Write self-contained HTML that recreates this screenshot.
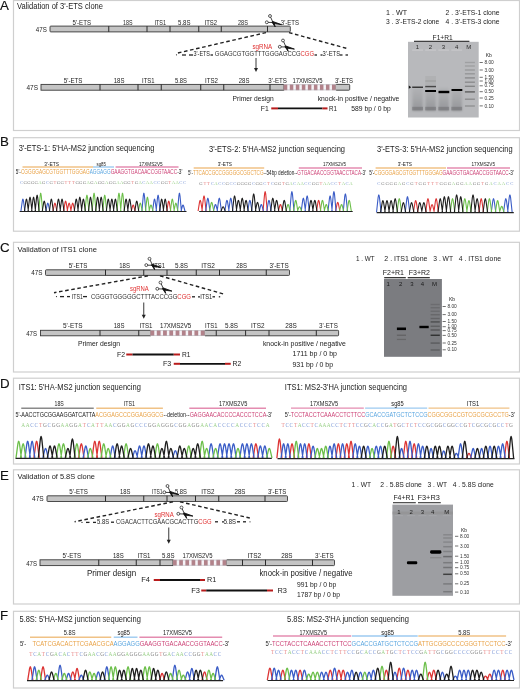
<!DOCTYPE html><html><head><meta charset="utf-8"><style>html,body{margin:0;padding:0;background:#fff;overflow:hidden}svg{display:block;filter:blur(0.3px)}</style></head><body><svg width="520" height="689" viewBox="0 0 520 689">
<defs><filter id="blur" x="-50%" y="-50%" width="200%" height="200%"><feGaussianBlur stdDeviation="0.5"/></filter><filter id="blur2" x="-50%" y="-50%" width="200%" height="200%"><feGaussianBlur stdDeviation="0.9"/></filter><linearGradient id="laneA" x1="0" y1="0" x2="0" y2="1"><stop offset="0" stop-color="#a9aaad" stop-opacity="0.5"/><stop offset="1" stop-color="#8c8d90" stop-opacity="0.85"/></linearGradient></defs>
<rect width="520" height="689" fill="#fff"/>
<rect x="13.5" y="0.5" width="506.0" height="130.0" fill="none" stroke="#cfcfcf" stroke-width="1.2"/>
<text x="0.0" y="9.6" font-size="13.3" fill="#111" stroke="#111" stroke-width="0.15" font-family="Liberation Sans">A</text>
<text x="17.00" y="8.70" font-size="8.3" fill="#222" stroke="#222" stroke-width="0.0" font-family="Liberation Sans" textLength="86.00" lengthAdjust="spacingAndGlyphs">Validation of 3'-ETS clone</text>
<text x="35.75" y="32.00" font-size="6.8" fill="#222" stroke="#222" stroke-width="0.0" font-family="Liberation Sans" textLength="11.00" lengthAdjust="spacingAndGlyphs">47S</text>
<rect x="50" y="26.1" width="240.3" height="5.799999999999997" fill="#c4c4c4" stroke="#3a3a3a" stroke-width="0.9" rx="0.8"/>
<line x1="108.75" y1="26.1" x2="108.75" y2="31.9" stroke="#2a2a2a" stroke-width="1.0" />
<line x1="147" y1="26.1" x2="147" y2="31.9" stroke="#2a2a2a" stroke-width="1.0" />
<line x1="170" y1="26.1" x2="170" y2="31.9" stroke="#2a2a2a" stroke-width="1.0" />
<line x1="198.75" y1="26.1" x2="198.75" y2="31.9" stroke="#2a2a2a" stroke-width="1.0" />
<line x1="221.25" y1="26.1" x2="221.25" y2="31.9" stroke="#2a2a2a" stroke-width="1.0" />
<line x1="267.5" y1="26.1" x2="267.5" y2="31.9" stroke="#2a2a2a" stroke-width="1.0" />
<text x="72.50" y="24.60" font-size="7.0" fill="#222" stroke="#222" stroke-width="0.0" font-family="Liberation Sans" textLength="18.50" lengthAdjust="spacingAndGlyphs">5'-ETS</text>
<text x="123.00" y="24.60" font-size="7.0" fill="#222" stroke="#222" stroke-width="0.0" font-family="Liberation Sans" textLength="9.50" lengthAdjust="spacingAndGlyphs">18S</text>
<text x="154.50" y="24.60" font-size="7.0" fill="#222" stroke="#222" stroke-width="0.0" font-family="Liberation Sans" textLength="11.50" lengthAdjust="spacingAndGlyphs">ITS1</text>
<text x="178.00" y="24.60" font-size="7.0" fill="#222" stroke="#222" stroke-width="0.0" font-family="Liberation Sans" textLength="12.50" lengthAdjust="spacingAndGlyphs">5.8S</text>
<text x="204.50" y="24.60" font-size="7.0" fill="#222" stroke="#222" stroke-width="0.0" font-family="Liberation Sans" textLength="12.50" lengthAdjust="spacingAndGlyphs">ITS2</text>
<text x="238.00" y="24.60" font-size="7.0" fill="#222" stroke="#222" stroke-width="0.0" font-family="Liberation Sans" textLength="10.00" lengthAdjust="spacingAndGlyphs">28S</text>
<text x="280.80" y="24.60" font-size="7.0" fill="#222" stroke="#222" stroke-width="0.0" font-family="Liberation Sans" textLength="18.20" lengthAdjust="spacingAndGlyphs">3'-ETS</text>
<g><circle cx="270" cy="16.0" r="1.45" fill="none" stroke="#222" stroke-width="0.75"/><circle cx="266.8" cy="22.3" r="1.45" fill="none" stroke="#222" stroke-width="0.75"/><path d="M270.7,17.3 L273,22.5" stroke="#111" stroke-width="0.8"/><path d="M268.2,22.400000000000002 L273,22.5" stroke="#111" stroke-width="0.8"/><path d="M271.9,22.0 L274.1,23.0 L275.2,26.9 Z" fill="#111" stroke="#111" stroke-width="0.9"/><path d="M272.6,21.4 L273.4,23.6 L281.4,24.6 Z" fill="#111" stroke="#111" stroke-width="0.9"/></g>
<line x1="266" y1="32.6" x2="176.5" y2="53.3" stroke="#222" stroke-width="1.4" stroke-dasharray="3.6,2.6"/>
<line x1="289" y1="32.6" x2="347.5" y2="48.6" stroke="#222" stroke-width="1.4" stroke-dasharray="3.6,2.6"/>
<circle cx="176.5" cy="54.8" r="0.6" fill="#222"/>
<line x1="182" y1="55" x2="186" y2="55" stroke="#222" stroke-width="1.3" />
<line x1="189" y1="55" x2="193" y2="55" stroke="#222" stroke-width="1.3" />
<text x="193.50" y="55.80" font-size="6.5" fill="#222" stroke="#222" stroke-width="0.0" font-family="Liberation Sans" textLength="16.50" lengthAdjust="spacingAndGlyphs">3'-ETS</text>
<line x1="210.5" y1="55" x2="213" y2="55" stroke="#222" stroke-width="1.3" />
<text x="214.80" y="56.00" font-size="6.6" fill="#333" stroke="#333" stroke-width="0.0" font-family="Liberation Sans" textLength="85.73" lengthAdjust="spacingAndGlyphs">GGAGCGTGGTTTGGGAGCCG</text>
<text x="300.53" y="56.00" font-size="6.6" fill="#e03030" stroke="#e03030" stroke-width="0.0" font-family="Liberation Sans" textLength="13.47" lengthAdjust="spacingAndGlyphs">CGG</text>
<line x1="314.5" y1="55" x2="317" y2="55" stroke="#222" stroke-width="1.3" />
<line x1="320.5" y1="55" x2="322.5" y2="55" stroke="#222" stroke-width="1.3" />
<text x="322.50" y="55.80" font-size="6.5" fill="#222" stroke="#222" stroke-width="0.0" font-family="Liberation Sans" textLength="17.50" lengthAdjust="spacingAndGlyphs">3'-ETS</text>
<line x1="340" y1="55" x2="342.5" y2="55" stroke="#222" stroke-width="1.3" />
<line x1="345.5" y1="55" x2="348" y2="55" stroke="#222" stroke-width="1.3" />
<text x="252.50" y="49.00" font-size="7.0" fill="#e03030" stroke="#e03030" stroke-width="0.0" font-family="Liberation Sans" textLength="19.80" lengthAdjust="spacingAndGlyphs">sgRNA</text>
<g><circle cx="283" cy="40.5" r="1.45" fill="none" stroke="#222" stroke-width="0.75"/><circle cx="279.8" cy="46.8" r="1.45" fill="none" stroke="#222" stroke-width="0.75"/><path d="M283.7,41.8 L286,47" stroke="#111" stroke-width="0.8"/><path d="M281.2,46.9 L286,47" stroke="#111" stroke-width="0.8"/><path d="M284.9,46.5 L287.1,47.5 L288.2,51.4 Z" fill="#111" stroke="#111" stroke-width="0.9"/><path d="M285.6,45.9 L286.4,48.1 L294.4,49.1 Z" fill="#111" stroke="#111" stroke-width="0.9"/></g>
<line x1="256" y1="58" x2="256" y2="69" stroke="#222" stroke-width="0.9" />
<path d="M254,68 L258,68 L256,72 Z" fill="#222"/>
<text x="26.50" y="89.60" font-size="6.8" fill="#222" stroke="#222" stroke-width="0.0" font-family="Liberation Sans" textLength="11.50" lengthAdjust="spacingAndGlyphs">47S</text>
<rect x="41" y="84.4" width="242.75" height="5.799999999999997" fill="#c4c4c4" stroke="#3a3a3a" stroke-width="0.9"/>
<rect x="335.5" y="84.4" width="14.199999999999989" height="5.799999999999997" fill="#c4c4c4" stroke="#3a3a3a" stroke-width="0.9" rx="0.8"/>
<rect x="283.75" y="84.4" width="51.75" height="5.799999999999997" fill="#f6f4f8"/>
<rect x="283.75" y="84.4" width="3.53" height="5.799999999999997" fill="#b2828a"/>
<rect x="289.78" y="84.4" width="3.53" height="5.799999999999997" fill="#b2828a"/>
<rect x="295.81" y="84.4" width="3.53" height="5.799999999999997" fill="#b2828a"/>
<rect x="301.83" y="84.4" width="3.53" height="5.799999999999997" fill="#b2828a"/>
<rect x="307.86" y="84.4" width="3.53" height="5.799999999999997" fill="#b2828a"/>
<rect x="313.89" y="84.4" width="3.53" height="5.799999999999997" fill="#b2828a"/>
<rect x="319.92" y="84.4" width="3.53" height="5.799999999999997" fill="#b2828a"/>
<rect x="325.94" y="84.4" width="3.53" height="5.799999999999997" fill="#b2828a"/>
<rect x="331.97" y="84.4" width="3.53" height="5.799999999999997" fill="#b2828a"/>
<line x1="283.75" y1="84.65" x2="335.5" y2="84.65" stroke="#a8a8b0" stroke-width="0.5"/>
<line x1="283.75" y1="89.95" x2="335.5" y2="89.95" stroke="#a8a8b0" stroke-width="0.5"/>
<line x1="100" y1="84.4" x2="100" y2="90.2" stroke="#2a2a2a" stroke-width="1.0" />
<line x1="138" y1="84.4" x2="138" y2="90.2" stroke="#2a2a2a" stroke-width="1.0" />
<line x1="161.25" y1="84.4" x2="161.25" y2="90.2" stroke="#2a2a2a" stroke-width="1.0" />
<line x1="200.75" y1="84.4" x2="200.75" y2="90.2" stroke="#2a2a2a" stroke-width="1.0" />
<line x1="223.75" y1="84.4" x2="223.75" y2="90.2" stroke="#2a2a2a" stroke-width="1.0" />
<line x1="270" y1="84.4" x2="270" y2="90.2" stroke="#2a2a2a" stroke-width="1.0" />
<text x="63.75" y="82.60" font-size="7.0" fill="#222" stroke="#222" stroke-width="0.0" font-family="Liberation Sans" textLength="18.75" lengthAdjust="spacingAndGlyphs">5'-ETS</text>
<text x="113.75" y="82.60" font-size="7.0" fill="#222" stroke="#222" stroke-width="0.0" font-family="Liberation Sans" textLength="10.75" lengthAdjust="spacingAndGlyphs">18S</text>
<text x="142.00" y="82.60" font-size="7.0" fill="#222" stroke="#222" stroke-width="0.0" font-family="Liberation Sans" textLength="12.50" lengthAdjust="spacingAndGlyphs">ITS1</text>
<text x="175.00" y="82.60" font-size="7.0" fill="#222" stroke="#222" stroke-width="0.0" font-family="Liberation Sans" textLength="12.00" lengthAdjust="spacingAndGlyphs">5.8S</text>
<text x="205.00" y="82.60" font-size="7.0" fill="#222" stroke="#222" stroke-width="0.0" font-family="Liberation Sans" textLength="13.00" lengthAdjust="spacingAndGlyphs">ITS2</text>
<text x="238.75" y="82.60" font-size="7.0" fill="#222" stroke="#222" stroke-width="0.0" font-family="Liberation Sans" textLength="10.75" lengthAdjust="spacingAndGlyphs">28S</text>
<text x="268.25" y="82.60" font-size="7.0" fill="#222" stroke="#222" stroke-width="0.0" font-family="Liberation Sans" textLength="18.75" lengthAdjust="spacingAndGlyphs">3'-ETS</text>
<text x="292.50" y="82.60" font-size="7.0" fill="#222" stroke="#222" stroke-width="0.0" font-family="Liberation Sans" textLength="30.00" lengthAdjust="spacingAndGlyphs">17XMS2V5</text>
<text x="335.00" y="82.60" font-size="7.0" fill="#222" stroke="#222" stroke-width="0.0" font-family="Liberation Sans" textLength="18.00" lengthAdjust="spacingAndGlyphs">3'-ETS</text>
<text x="232.50" y="101.00" font-size="7" fill="#222" stroke="#222" stroke-width="0.0" font-family="Liberation Sans" textLength="41.25" lengthAdjust="spacingAndGlyphs">Primer design</text>
<text x="317.70" y="100.80" font-size="7" fill="#222" stroke="#222" stroke-width="0.0" font-family="Liberation Sans" textLength="81.70" lengthAdjust="spacingAndGlyphs">knock-in positive / negative</text>
<text x="260.75" y="111.20" font-size="7" fill="#222" stroke="#222" stroke-width="0.0" font-family="Liberation Sans" textLength="8.00" lengthAdjust="spacingAndGlyphs">F1</text>
<line x1="271.25" y1="108.4" x2="278" y2="108.4" stroke="#b81c1c" stroke-width="2.0" />
<line x1="278" y1="108.4" x2="322.5" y2="108.4" stroke="#111" stroke-width="1.8" />
<line x1="322.5" y1="108.4" x2="327.5" y2="108.4" stroke="#b81c1c" stroke-width="2.0" />
<text x="329.00" y="111.20" font-size="7" fill="#222" stroke="#222" stroke-width="0.0" font-family="Liberation Sans" textLength="8.00" lengthAdjust="spacingAndGlyphs">R1</text>
<text x="351.30" y="111.20" font-size="6.8" fill="#222" stroke="#222" stroke-width="0.0" font-family="Liberation Sans" textLength="39.50" lengthAdjust="spacingAndGlyphs">589 bp / 0 bp</text>
<text x="386.00" y="14.80" font-size="6.8" fill="#222" stroke="#222" stroke-width="0.0" font-family="Liberation Sans" textLength="21.00" lengthAdjust="spacingAndGlyphs">1 . WT</text>
<text x="445.50" y="14.80" font-size="6.8" fill="#222" stroke="#222" stroke-width="0.0" font-family="Liberation Sans" textLength="53.90" lengthAdjust="spacingAndGlyphs">2 . 3'-ETS-1 clone</text>
<text x="386.00" y="24.30" font-size="6.8" fill="#222" stroke="#222" stroke-width="0.0" font-family="Liberation Sans" textLength="53.30" lengthAdjust="spacingAndGlyphs">3 . 3'-ETS-2 clone</text>
<text x="445.50" y="24.30" font-size="6.8" fill="#222" stroke="#222" stroke-width="0.0" font-family="Liberation Sans" textLength="53.90" lengthAdjust="spacingAndGlyphs">4 . 3'-ETS-3 clone</text>
<text x="432.60" y="39.60" font-size="6.8" fill="#222" stroke="#222" stroke-width="0.0" font-family="Liberation Sans" textLength="20.20" lengthAdjust="spacingAndGlyphs">F1+R1</text>
<line x1="414" y1="41.3" x2="469.4" y2="41.3" stroke="#222" stroke-width="1.3" />
<rect x="408.00" y="41.80" width="70.70" height="75.70" rx="0" fill="#b8b9bc" opacity="1"/>
<rect x="412.20" y="49.50" width="10.80" height="1.20" rx="0" fill="#cfcfd2" opacity="0.7" filter="url(#blur)"/>
<rect x="412.40" y="88" width="10.4" height="23" fill="url(#laneA)" filter="url(#blur2)"/>
<rect x="412.20" y="106.80" width="10.80" height="3.60" rx="0" fill="#6e6e72" opacity="0.55" filter="url(#blur)"/>
<rect x="425.20" y="49.50" width="10.80" height="1.20" rx="0" fill="#cfcfd2" opacity="0.7" filter="url(#blur)"/>
<rect x="425.40" y="88" width="10.4" height="23" fill="url(#laneA)" filter="url(#blur2)"/>
<rect x="425.20" y="106.80" width="10.80" height="3.60" rx="0" fill="#6e6e72" opacity="0.55" filter="url(#blur)"/>
<rect x="438.30" y="49.50" width="10.80" height="1.20" rx="0" fill="#cfcfd2" opacity="0.7" filter="url(#blur)"/>
<rect x="438.50" y="88" width="10.4" height="23" fill="url(#laneA)" filter="url(#blur2)"/>
<rect x="438.30" y="106.80" width="10.80" height="3.60" rx="0" fill="#6e6e72" opacity="0.55" filter="url(#blur)"/>
<rect x="451.30" y="49.50" width="10.80" height="1.20" rx="0" fill="#cfcfd2" opacity="0.7" filter="url(#blur)"/>
<rect x="451.50" y="88" width="10.4" height="23" fill="url(#laneA)" filter="url(#blur2)"/>
<rect x="451.30" y="106.80" width="10.80" height="3.60" rx="0" fill="#6e6e72" opacity="0.55" filter="url(#blur)"/>
<rect x="425.20" y="76.00" width="10.80" height="9.00" rx="0" fill="#a0a0a0" opacity="0.3" filter="url(#blur)"/>
<rect x="425.20" y="80.50" width="10.80" height="1.00" rx="0" fill="#7a7a7a" opacity="0.4" filter="url(#blur)"/>
<rect x="412.20" y="86.50" width="10.80" height="1.50" rx="0" fill="#2a2a2a" opacity="0.9" filter="url(#blur)"/>
<rect x="425.20" y="85.80" width="10.80" height="1.50" rx="0" fill="#2a2a2a" opacity="0.8" filter="url(#blur)"/>
<rect x="425.20" y="90.00" width="10.80" height="2.00" rx="0" fill="#000" opacity="1" filter="url(#blur)"/>
<rect x="438.50" y="90.80" width="10.80" height="2.40" rx="0" fill="#000" opacity="1" filter="url(#blur)"/>
<rect x="451.50" y="89.00" width="10.80" height="2.00" rx="0" fill="#000" opacity="1" filter="url(#blur)"/>
<path d="M408.8,85.6 L411.2,87.2 L408.8,88.8 Z" fill="#111"/>
<rect x="464.90" y="61.80" width="10.00" height="1.40" rx="0" fill="#4a4a4a" opacity="0.22" filter="url(#blur)"/>
<rect x="464.90" y="65.30" width="10.00" height="1.40" rx="0" fill="#4a4a4a" opacity="0.22" filter="url(#blur)"/>
<rect x="464.90" y="69.30" width="10.00" height="1.40" rx="0" fill="#4a4a4a" opacity="0.28" filter="url(#blur)"/>
<rect x="464.90" y="73.10" width="10.00" height="1.40" rx="0" fill="#4a4a4a" opacity="0.3" filter="url(#blur)"/>
<rect x="464.90" y="77.20" width="10.00" height="1.40" rx="0" fill="#4a4a4a" opacity="0.4" filter="url(#blur)"/>
<rect x="464.90" y="81.50" width="10.00" height="1.40" rx="0" fill="#4a4a4a" opacity="0.4" filter="url(#blur)"/>
<rect x="464.90" y="85.60" width="10.00" height="1.40" rx="0" fill="#4a4a4a" opacity="0.45" filter="url(#blur)"/>
<rect x="464.90" y="91.20" width="10.00" height="1.40" rx="0" fill="#4a4a4a" opacity="0.8" filter="url(#blur)"/>
<rect x="464.90" y="98.50" width="10.00" height="1.40" rx="0" fill="#4a4a4a" opacity="0.4" filter="url(#blur)"/>
<rect x="464.90" y="105.30" width="10.00" height="1.40" rx="0" fill="#4a4a4a" opacity="0.35" filter="url(#blur)"/>
<text x="417.3" y="48.6" font-size="6" fill="#2a2a2a" font-family="Liberation Sans" text-anchor="middle">1</text>
<text x="430.3" y="48.6" font-size="6" fill="#2a2a2a" font-family="Liberation Sans" text-anchor="middle">2</text>
<text x="443.4" y="48.6" font-size="6" fill="#2a2a2a" font-family="Liberation Sans" text-anchor="middle">3</text>
<text x="456.7" y="48.6" font-size="6" fill="#2a2a2a" font-family="Liberation Sans" text-anchor="middle">4</text>
<text x="468.8" y="48.6" font-size="6" fill="#2a2a2a" font-family="Liberation Sans" text-anchor="middle">M</text>
<text x="485.7" y="57.2" font-size="5" fill="#222" font-family="Liberation Sans">Kb</text>
<line x1="479.6" y1="62.5" x2="482.8" y2="62.5" stroke="#333" stroke-width="0.7" />
<text x="484.40" y="64.10" font-size="4.8" fill="#333" font-family="Liberation Sans">8.00</text>
<line x1="479.6" y1="70" x2="482.8" y2="70" stroke="#333" stroke-width="0.7" />
<text x="484.40" y="71.60" font-size="4.8" fill="#333" font-family="Liberation Sans">3.00</text>
<line x1="479.6" y1="77.3" x2="482.8" y2="77.3" stroke="#333" stroke-width="0.7" />
<text x="484.40" y="78.90" font-size="4.8" fill="#333" font-family="Liberation Sans">1.50</text>
<line x1="479.6" y1="81" x2="482.8" y2="81" stroke="#333" stroke-width="0.7" />
<text x="484.40" y="82.60" font-size="4.8" fill="#333" font-family="Liberation Sans">1.00</text>
<line x1="479.6" y1="85.8" x2="482.8" y2="85.8" stroke="#333" stroke-width="0.7" />
<text x="484.40" y="87.40" font-size="4.8" fill="#333" font-family="Liberation Sans">0.75</text>
<line x1="479.6" y1="91.7" x2="482.8" y2="91.7" stroke="#333" stroke-width="0.7" />
<text x="484.40" y="93.30" font-size="4.8" fill="#333" font-family="Liberation Sans">0.50</text>
<line x1="479.6" y1="98" x2="482.8" y2="98" stroke="#333" stroke-width="0.7" />
<text x="484.40" y="99.60" font-size="4.8" fill="#333" font-family="Liberation Sans">0.25</text>
<line x1="479.6" y1="105.9" x2="482.8" y2="105.9" stroke="#333" stroke-width="0.7" />
<text x="484.40" y="107.50" font-size="4.8" fill="#333" font-family="Liberation Sans">0.10</text>
<rect x="13.5" y="137.7" width="506.0" height="93.5" fill="none" stroke="#cfcfcf" stroke-width="1.2"/>
<text x="0.0" y="146.3" font-size="13.3" fill="#111" stroke="#111" stroke-width="0.15" font-family="Liberation Sans">B</text>
<text x="18.70" y="150.60" font-size="9.1" fill="#222" stroke="#222" stroke-width="0.0" font-family="Liberation Sans" textLength="135.70" lengthAdjust="spacingAndGlyphs">3'-ETS-1: 5'HA-MS2 junction sequencing</text>
<line x1="22.5" y1="167" x2="93" y2="167" stroke="#f0c286" stroke-width="1.4" />
<line x1="93" y1="167" x2="114" y2="167" stroke="#9ccaf0" stroke-width="1.4" />
<line x1="115.6" y1="167" x2="178.5" y2="167" stroke="#e48cb0" stroke-width="1.4" />
<text x="44.20" y="165.60" font-size="5.6" fill="#222" stroke="#222" stroke-width="0.0" font-family="Liberation Sans" textLength="14.80" lengthAdjust="spacingAndGlyphs">3'-ETS</text>
<text x="96.50" y="165.60" font-size="5.6" fill="#222" stroke="#222" stroke-width="0.0" font-family="Liberation Sans" textLength="9.50" lengthAdjust="spacingAndGlyphs">sg85</text>
<text x="139.00" y="165.60" font-size="5.6" fill="#222" stroke="#222" stroke-width="0.0" font-family="Liberation Sans" textLength="23.70" lengthAdjust="spacingAndGlyphs">17XMS2V5</text>
<text x="15.80" y="173.80" font-size="6.4" fill="#222" stroke="#222" stroke-width="0.0" font-family="Liberation Sans" textLength="5.10" lengthAdjust="spacingAndGlyphs">5'-</text>
<text x="20.90" y="173.80" font-size="6.4" fill="#e9a246" stroke="#e9a246" stroke-width="0.0" font-family="Liberation Sans" textLength="68.75" lengthAdjust="spacingAndGlyphs">CGGGGAGCGTGGTTTGGGAG</text>
<text x="89.64" y="173.80" font-size="6.4" fill="#5aa6e0" stroke="#5aa6e0" stroke-width="0.0" font-family="Liberation Sans" textLength="21.00" lengthAdjust="spacingAndGlyphs">AGGAGG</text>
<text x="110.64" y="173.80" font-size="6.4" fill="#cc3f74" stroke="#cc3f74" stroke-width="0.0" font-family="Liberation Sans" textLength="66.56" lengthAdjust="spacingAndGlyphs">GAAGGTGACAACCGGTAACC</text>
<text x="177.20" y="173.80" font-size="6.4" fill="#222" stroke="#222" stroke-width="0.0" font-family="Liberation Sans" textLength="5.10" lengthAdjust="spacingAndGlyphs">-3'</text>
<text x="21.45" y="184" font-size="4.7" fill="#7f9ad8" font-family="Liberation Serif" text-anchor="middle">C</text>
<text x="25.16" y="184" font-size="4.7" fill="#808080" font-family="Liberation Serif" text-anchor="middle">G</text>
<text x="28.87" y="184" font-size="4.7" fill="#808080" font-family="Liberation Serif" text-anchor="middle">G</text>
<text x="32.58" y="184" font-size="4.7" fill="#808080" font-family="Liberation Serif" text-anchor="middle">G</text>
<text x="36.29" y="184" font-size="4.7" fill="#808080" font-family="Liberation Serif" text-anchor="middle">G</text>
<text x="40.00" y="184" font-size="4.7" fill="#9ad088" font-family="Liberation Serif" text-anchor="middle">A</text>
<text x="43.71" y="184" font-size="4.7" fill="#808080" font-family="Liberation Serif" text-anchor="middle">G</text>
<text x="47.42" y="184" font-size="4.7" fill="#7f9ad8" font-family="Liberation Serif" text-anchor="middle">C</text>
<text x="51.13" y="184" font-size="4.7" fill="#808080" font-family="Liberation Serif" text-anchor="middle">G</text>
<text x="54.83" y="184" font-size="4.7" fill="#e88a8a" font-family="Liberation Serif" text-anchor="middle">T</text>
<text x="58.54" y="184" font-size="4.7" fill="#808080" font-family="Liberation Serif" text-anchor="middle">G</text>
<text x="62.25" y="184" font-size="4.7" fill="#808080" font-family="Liberation Serif" text-anchor="middle">G</text>
<text x="65.96" y="184" font-size="4.7" fill="#e88a8a" font-family="Liberation Serif" text-anchor="middle">T</text>
<text x="69.67" y="184" font-size="4.7" fill="#e88a8a" font-family="Liberation Serif" text-anchor="middle">T</text>
<text x="73.38" y="184" font-size="4.7" fill="#e88a8a" font-family="Liberation Serif" text-anchor="middle">T</text>
<text x="77.09" y="184" font-size="4.7" fill="#808080" font-family="Liberation Serif" text-anchor="middle">G</text>
<text x="80.80" y="184" font-size="4.7" fill="#808080" font-family="Liberation Serif" text-anchor="middle">G</text>
<text x="84.51" y="184" font-size="4.7" fill="#808080" font-family="Liberation Serif" text-anchor="middle">G</text>
<text x="88.21" y="184" font-size="4.7" fill="#9ad088" font-family="Liberation Serif" text-anchor="middle">A</text>
<text x="91.92" y="184" font-size="4.7" fill="#808080" font-family="Liberation Serif" text-anchor="middle">G</text>
<text x="95.63" y="184" font-size="4.7" fill="#9ad088" font-family="Liberation Serif" text-anchor="middle">A</text>
<text x="99.34" y="184" font-size="4.7" fill="#808080" font-family="Liberation Serif" text-anchor="middle">G</text>
<text x="103.05" y="184" font-size="4.7" fill="#808080" font-family="Liberation Serif" text-anchor="middle">G</text>
<text x="106.76" y="184" font-size="4.7" fill="#9ad088" font-family="Liberation Serif" text-anchor="middle">A</text>
<text x="110.47" y="184" font-size="4.7" fill="#808080" font-family="Liberation Serif" text-anchor="middle">G</text>
<text x="114.18" y="184" font-size="4.7" fill="#808080" font-family="Liberation Serif" text-anchor="middle">G</text>
<text x="117.89" y="184" font-size="4.7" fill="#9ad088" font-family="Liberation Serif" text-anchor="middle">A</text>
<text x="121.59" y="184" font-size="4.7" fill="#9ad088" font-family="Liberation Serif" text-anchor="middle">A</text>
<text x="125.30" y="184" font-size="4.7" fill="#808080" font-family="Liberation Serif" text-anchor="middle">G</text>
<text x="129.01" y="184" font-size="4.7" fill="#808080" font-family="Liberation Serif" text-anchor="middle">G</text>
<text x="132.72" y="184" font-size="4.7" fill="#e88a8a" font-family="Liberation Serif" text-anchor="middle">T</text>
<text x="136.43" y="184" font-size="4.7" fill="#808080" font-family="Liberation Serif" text-anchor="middle">G</text>
<text x="140.14" y="184" font-size="4.7" fill="#9ad088" font-family="Liberation Serif" text-anchor="middle">A</text>
<text x="143.85" y="184" font-size="4.7" fill="#7f9ad8" font-family="Liberation Serif" text-anchor="middle">C</text>
<text x="147.56" y="184" font-size="4.7" fill="#9ad088" font-family="Liberation Serif" text-anchor="middle">A</text>
<text x="151.27" y="184" font-size="4.7" fill="#9ad088" font-family="Liberation Serif" text-anchor="middle">A</text>
<text x="154.97" y="184" font-size="4.7" fill="#7f9ad8" font-family="Liberation Serif" text-anchor="middle">C</text>
<text x="158.68" y="184" font-size="4.7" fill="#7f9ad8" font-family="Liberation Serif" text-anchor="middle">C</text>
<text x="162.39" y="184" font-size="4.7" fill="#808080" font-family="Liberation Serif" text-anchor="middle">G</text>
<text x="166.10" y="184" font-size="4.7" fill="#808080" font-family="Liberation Serif" text-anchor="middle">G</text>
<text x="169.81" y="184" font-size="4.7" fill="#e88a8a" font-family="Liberation Serif" text-anchor="middle">T</text>
<text x="173.52" y="184" font-size="4.7" fill="#9ad088" font-family="Liberation Serif" text-anchor="middle">A</text>
<text x="177.23" y="184" font-size="4.7" fill="#9ad088" font-family="Liberation Serif" text-anchor="middle">A</text>
<text x="180.94" y="184" font-size="4.7" fill="#7f9ad8" font-family="Liberation Serif" text-anchor="middle">C</text>
<text x="184.65" y="184" font-size="4.7" fill="#7f9ad8" font-family="Liberation Serif" text-anchor="middle">C</text>
<path d="M52.96,211.00 L54.33,204.32 Q54.92,201.81 55.51,204.32 L56.88,211.00 M63.64,211.00 L65.01,202.64 Q65.59,199.51 66.18,202.64 L67.55,211.00 M67.19,211.00 L68.56,204.32 Q69.15,201.81 69.74,204.32 L71.11,211.00 M70.75,211.00 L72.12,204.32 Q72.71,201.81 73.30,204.32 L74.67,211.00 M131.23,211.00 L132.60,205.99 Q133.19,204.11 133.78,205.99 L135.15,211.00 M166.81,211.00 L168.18,202.64 Q168.77,199.51 169.36,202.64 L170.73,211.00" fill="none" stroke="#dc3434" stroke-width="1.1" stroke-linejoin="round"/>
<path d="M20.94,211.00 L22.31,200.97 Q22.90,197.21 23.49,200.97 L24.86,211.00 M45.85,211.00 L47.22,204.32 Q47.80,201.81 48.39,204.32 L49.76,211.00 M141.91,211.00 L143.28,195.96 Q143.86,190.32 144.45,195.96 L145.82,211.00 M152.58,211.00 L153.95,200.97 Q154.54,197.21 155.12,200.97 L156.49,211.00 M156.14,211.00 L157.51,197.63 Q158.10,192.62 158.68,197.63 L160.05,211.00 M177.49,211.00 L178.86,195.96 Q179.44,190.32 180.03,195.96 L181.40,211.00 M181.04,211.00 L182.41,205.99 Q183.00,204.11 183.59,205.99 L184.96,211.00" fill="none" stroke="#3a5cc6" stroke-width="1.1" stroke-linejoin="round"/>
<path d="M38.73,211.00 L40.10,195.96 Q40.69,190.32 41.28,195.96 L42.65,211.00 M84.98,211.00 L86.35,197.63 Q86.94,192.62 87.53,197.63 L88.90,211.00 M92.10,211.00 L93.47,195.96 Q94.06,190.32 94.64,195.96 L96.01,211.00 M102.77,211.00 L104.14,197.63 Q104.73,192.62 105.32,197.63 L106.69,211.00 M117.00,211.00 L118.37,195.96 Q118.96,190.32 119.55,195.96 L120.92,211.00 M120.56,211.00 L121.93,195.96 Q122.52,190.32 123.10,195.96 L124.47,211.00 M138.35,211.00 L139.72,204.32 Q140.31,201.81 140.89,204.32 L142.26,211.00 M145.47,211.00 L146.84,199.30 Q147.42,194.92 148.01,199.30 L149.38,211.00 M149.02,211.00 L150.39,205.99 Q150.98,204.11 151.57,205.99 L152.94,211.00 M170.37,211.00 L171.74,200.97 Q172.33,197.21 172.91,200.97 L174.28,211.00 M173.93,211.00 L175.30,204.32 Q175.88,201.81 176.47,204.32 L177.84,211.00" fill="none" stroke="#6cbf4a" stroke-width="1.1" stroke-linejoin="round"/>
<path d="M24.50,211.00 L25.87,200.97 Q26.46,197.21 27.04,200.97 L28.41,211.00 M28.06,211.00 L29.43,199.30 Q30.02,194.92 30.60,199.30 L31.97,211.00 M31.62,211.00 L32.99,199.30 Q33.57,194.92 34.16,199.30 L35.53,211.00 M35.17,211.00 L36.54,197.63 Q37.13,192.62 37.72,197.63 L39.09,211.00 M42.29,211.00 L43.66,202.64 Q44.25,199.51 44.83,202.64 L46.20,211.00 M49.41,211.00 L50.78,200.97 Q51.36,197.21 51.95,200.97 L53.32,211.00 M56.52,211.00 L57.89,200.97 Q58.48,197.21 59.06,200.97 L60.43,211.00 M60.08,211.00 L61.45,200.97 Q62.04,197.21 62.62,200.97 L63.99,211.00 M74.31,211.00 L75.68,200.97 Q76.27,197.21 76.85,200.97 L78.22,211.00 M77.87,211.00 L79.24,199.30 Q79.82,194.92 80.41,199.30 L81.78,211.00 M81.43,211.00 L82.80,200.97 Q83.38,197.21 83.97,200.97 L85.34,211.00 M88.54,211.00 L89.91,199.30 Q90.50,194.92 91.08,199.30 L92.45,211.00 M95.66,211.00 L97.03,199.30 Q97.61,194.92 98.20,199.30 L99.57,211.00 M99.21,211.00 L100.58,199.30 Q101.17,194.92 101.76,199.30 L103.13,211.00 M106.33,211.00 L107.70,200.97 Q108.29,197.21 108.87,200.97 L110.24,211.00 M109.89,211.00 L111.26,200.97 Q111.84,197.21 112.43,200.97 L113.80,211.00 M113.45,211.00 L114.82,200.97 Q115.40,197.21 115.99,200.97 L117.36,211.00 M124.12,211.00 L125.49,200.97 Q126.08,197.21 126.66,200.97 L128.03,211.00 M127.68,211.00 L129.05,200.97 Q129.63,197.21 130.22,200.97 L131.59,211.00 M134.79,211.00 L136.16,202.64 Q136.75,199.51 137.34,202.64 L138.71,211.00 M159.70,211.00 L161.07,200.97 Q161.65,197.21 162.24,200.97 L163.61,211.00 M163.25,211.00 L164.62,200.97 Q165.21,197.21 165.80,200.97 L167.17,211.00" fill="none" stroke="#1e1e1e" stroke-width="1.1" stroke-linejoin="round"/>
<line x1="19.6" y1="211.5" x2="186.5" y2="211.5" stroke="#222" stroke-width="1.2" />
<text x="209.00" y="151.50" font-size="9.1" fill="#222" stroke="#222" stroke-width="0.0" font-family="Liberation Sans" textLength="136.00" lengthAdjust="spacingAndGlyphs">3'-ETS-2: 5'HA-MS2 junction sequencing</text>
<line x1="193.7" y1="168" x2="264.2" y2="168" stroke="#f0c286" stroke-width="1.4" />
<line x1="298.8" y1="168" x2="362" y2="168" stroke="#e48cb0" stroke-width="1.4" />
<text x="217.70" y="166.00" font-size="5.6" fill="#222" stroke="#222" stroke-width="0.0" font-family="Liberation Sans" textLength="14.30" lengthAdjust="spacingAndGlyphs">3'-ETS</text>
<text x="323.00" y="166.00" font-size="5.6" fill="#222" stroke="#222" stroke-width="0.0" font-family="Liberation Sans" textLength="23.00" lengthAdjust="spacingAndGlyphs">17XMS2V5</text>
<text x="188.00" y="175.00" font-size="6.4" fill="#222" stroke="#222" stroke-width="0.0" font-family="Liberation Sans" textLength="4.98" lengthAdjust="spacingAndGlyphs">5'-</text>
<text x="192.98" y="175.00" font-size="6.4" fill="#e9a246" stroke="#e9a246" stroke-width="0.0" font-family="Liberation Sans" textLength="70.50" lengthAdjust="spacingAndGlyphs">TTCACCGCCGGGGGCGGCTCG</text>
<text x="263.48" y="175.00" font-size="6.4" fill="#222" stroke="#222" stroke-width="0.0" font-family="Liberation Sans" textLength="33.86" lengthAdjust="spacingAndGlyphs">--54bp deletion--</text>
<text x="297.34" y="175.00" font-size="6.4" fill="#cc3f74" stroke="#cc3f74" stroke-width="0.0" font-family="Liberation Sans" textLength="63.68" lengthAdjust="spacingAndGlyphs">GTGACAACCGGTAACCTACA</text>
<text x="361.02" y="175.00" font-size="6.4" fill="#222" stroke="#222" stroke-width="0.0" font-family="Liberation Sans" textLength="4.98" lengthAdjust="spacingAndGlyphs">-3'</text>
<text x="201.07" y="185" font-size="4.7" fill="#808080" font-family="Liberation Serif" text-anchor="middle">G</text>
<text x="204.82" y="185" font-size="4.7" fill="#e88a8a" font-family="Liberation Serif" text-anchor="middle">T</text>
<text x="208.56" y="185" font-size="4.7" fill="#e88a8a" font-family="Liberation Serif" text-anchor="middle">T</text>
<text x="212.30" y="185" font-size="4.7" fill="#7f9ad8" font-family="Liberation Serif" text-anchor="middle">C</text>
<text x="216.05" y="185" font-size="4.7" fill="#9ad088" font-family="Liberation Serif" text-anchor="middle">A</text>
<text x="219.79" y="185" font-size="4.7" fill="#7f9ad8" font-family="Liberation Serif" text-anchor="middle">C</text>
<text x="223.54" y="185" font-size="4.7" fill="#7f9ad8" font-family="Liberation Serif" text-anchor="middle">C</text>
<text x="227.28" y="185" font-size="4.7" fill="#808080" font-family="Liberation Serif" text-anchor="middle">G</text>
<text x="231.02" y="185" font-size="4.7" fill="#7f9ad8" font-family="Liberation Serif" text-anchor="middle">C</text>
<text x="234.77" y="185" font-size="4.7" fill="#7f9ad8" font-family="Liberation Serif" text-anchor="middle">C</text>
<text x="238.51" y="185" font-size="4.7" fill="#808080" font-family="Liberation Serif" text-anchor="middle">G</text>
<text x="242.25" y="185" font-size="4.7" fill="#808080" font-family="Liberation Serif" text-anchor="middle">G</text>
<text x="246.00" y="185" font-size="4.7" fill="#808080" font-family="Liberation Serif" text-anchor="middle">G</text>
<text x="249.74" y="185" font-size="4.7" fill="#808080" font-family="Liberation Serif" text-anchor="middle">G</text>
<text x="253.49" y="185" font-size="4.7" fill="#7f9ad8" font-family="Liberation Serif" text-anchor="middle">C</text>
<text x="257.23" y="185" font-size="4.7" fill="#808080" font-family="Liberation Serif" text-anchor="middle">G</text>
<text x="260.97" y="185" font-size="4.7" fill="#808080" font-family="Liberation Serif" text-anchor="middle">G</text>
<text x="264.72" y="185" font-size="4.7" fill="#7f9ad8" font-family="Liberation Serif" text-anchor="middle">C</text>
<text x="268.46" y="185" font-size="4.7" fill="#e88a8a" font-family="Liberation Serif" text-anchor="middle">T</text>
<text x="272.21" y="185" font-size="4.7" fill="#7f9ad8" font-family="Liberation Serif" text-anchor="middle">C</text>
<text x="275.95" y="185" font-size="4.7" fill="#808080" font-family="Liberation Serif" text-anchor="middle">G</text>
<text x="279.69" y="185" font-size="4.7" fill="#808080" font-family="Liberation Serif" text-anchor="middle">G</text>
<text x="283.44" y="185" font-size="4.7" fill="#e88a8a" font-family="Liberation Serif" text-anchor="middle">T</text>
<text x="287.18" y="185" font-size="4.7" fill="#808080" font-family="Liberation Serif" text-anchor="middle">G</text>
<text x="290.93" y="185" font-size="4.7" fill="#9ad088" font-family="Liberation Serif" text-anchor="middle">A</text>
<text x="294.67" y="185" font-size="4.7" fill="#7f9ad8" font-family="Liberation Serif" text-anchor="middle">C</text>
<text x="298.41" y="185" font-size="4.7" fill="#9ad088" font-family="Liberation Serif" text-anchor="middle">A</text>
<text x="302.16" y="185" font-size="4.7" fill="#9ad088" font-family="Liberation Serif" text-anchor="middle">A</text>
<text x="305.90" y="185" font-size="4.7" fill="#7f9ad8" font-family="Liberation Serif" text-anchor="middle">C</text>
<text x="309.65" y="185" font-size="4.7" fill="#7f9ad8" font-family="Liberation Serif" text-anchor="middle">C</text>
<text x="313.39" y="185" font-size="4.7" fill="#808080" font-family="Liberation Serif" text-anchor="middle">G</text>
<text x="317.13" y="185" font-size="4.7" fill="#808080" font-family="Liberation Serif" text-anchor="middle">G</text>
<text x="320.88" y="185" font-size="4.7" fill="#e88a8a" font-family="Liberation Serif" text-anchor="middle">T</text>
<text x="324.62" y="185" font-size="4.7" fill="#9ad088" font-family="Liberation Serif" text-anchor="middle">A</text>
<text x="328.36" y="185" font-size="4.7" fill="#9ad088" font-family="Liberation Serif" text-anchor="middle">A</text>
<text x="332.11" y="185" font-size="4.7" fill="#7f9ad8" font-family="Liberation Serif" text-anchor="middle">C</text>
<text x="335.85" y="185" font-size="4.7" fill="#7f9ad8" font-family="Liberation Serif" text-anchor="middle">C</text>
<text x="339.60" y="185" font-size="4.7" fill="#e88a8a" font-family="Liberation Serif" text-anchor="middle">T</text>
<text x="343.34" y="185" font-size="4.7" fill="#9ad088" font-family="Liberation Serif" text-anchor="middle">A</text>
<text x="347.08" y="185" font-size="4.7" fill="#7f9ad8" font-family="Liberation Serif" text-anchor="middle">C</text>
<text x="350.83" y="185" font-size="4.7" fill="#9ad088" font-family="Liberation Serif" text-anchor="middle">A</text>
<path d="M198.10,211.00 L199.57,201.89 Q200.20,198.47 200.83,201.89 L202.30,211.00 M201.92,211.00 L203.39,198.24 Q204.02,193.46 204.65,198.24 L206.12,211.00 M263.05,211.00 L264.52,194.60 Q265.15,188.45 265.78,194.60 L267.25,211.00 M278.33,211.00 L279.80,205.53 Q280.43,203.48 281.06,205.53 L282.53,211.00 M316.53,211.00 L318.01,201.89 Q318.64,198.47 319.27,201.89 L320.74,211.00 M335.64,211.00 L337.11,203.71 Q337.74,200.98 338.37,203.71 L339.84,211.00" fill="none" stroke="#dc3434" stroke-width="1.1" stroke-linejoin="round"/>
<path d="M205.74,211.00 L207.21,200.07 Q207.84,195.97 208.47,200.07 L209.94,211.00 M213.38,211.00 L214.85,205.53 Q215.48,203.48 216.11,205.53 L217.58,211.00 M217.20,211.00 L218.67,200.07 Q219.30,195.97 219.93,200.07 L221.40,211.00 M224.84,211.00 L226.31,201.89 Q226.94,198.47 227.57,201.89 L229.04,211.00 M228.66,211.00 L230.13,200.07 Q230.76,195.97 231.39,200.07 L232.87,211.00 M247.77,211.00 L249.24,201.89 Q249.87,198.47 250.50,201.89 L251.97,211.00 M259.23,211.00 L260.70,205.53 Q261.33,203.48 261.96,205.53 L263.43,211.00 M266.87,211.00 L268.34,201.89 Q268.97,198.47 269.60,201.89 L271.07,211.00 M289.79,211.00 L291.26,194.60 Q291.89,188.45 292.52,194.60 L293.99,211.00 M301.25,211.00 L302.72,200.07 Q303.35,195.97 303.98,200.07 L305.46,211.00 M305.07,211.00 L306.54,198.24 Q307.17,193.46 307.80,198.24 L309.28,211.00 M328.00,211.00 L329.47,198.24 Q330.10,193.46 330.73,198.24 L332.20,211.00 M331.82,211.00 L333.29,194.60 Q333.92,188.45 334.55,194.60 L336.02,211.00 M343.28,211.00 L344.75,196.42 Q345.38,190.96 346.01,196.42 L347.48,211.00" fill="none" stroke="#3a5cc6" stroke-width="1.1" stroke-linejoin="round"/>
<path d="M209.56,211.00 L211.03,203.71 Q211.66,200.98 212.29,203.71 L213.76,211.00 M285.97,211.00 L287.44,205.53 Q288.07,203.48 288.70,205.53 L290.17,211.00 M293.61,211.00 L295.08,201.89 Q295.71,198.47 296.34,201.89 L297.81,211.00 M297.43,211.00 L298.90,207.36 Q299.53,205.99 300.16,207.36 L301.63,211.00 M320.36,211.00 L321.83,201.89 Q322.46,198.47 323.09,201.89 L324.56,211.00 M324.18,211.00 L325.65,205.53 Q326.28,203.48 326.91,205.53 L328.38,211.00 M339.46,211.00 L340.93,205.53 Q341.56,203.48 342.19,205.53 L343.66,211.00 M347.10,211.00 L348.57,201.89 Q349.20,198.47 349.83,201.89 L351.30,211.00" fill="none" stroke="#6cbf4a" stroke-width="1.1" stroke-linejoin="round"/>
<path d="M221.02,211.00 L222.49,207.36 Q223.12,205.99 223.75,207.36 L225.22,211.00 M232.48,211.00 L233.95,198.24 Q234.58,193.46 235.22,198.24 L236.69,211.00 M236.30,211.00 L237.77,201.89 Q238.41,198.47 239.04,201.89 L240.51,211.00 M240.12,211.00 L241.60,200.07 Q242.23,195.97 242.86,200.07 L244.33,211.00 M243.94,211.00 L245.42,201.89 Q246.05,198.47 246.68,201.89 L248.15,211.00 M251.59,211.00 L253.06,196.42 Q253.69,190.96 254.32,196.42 L255.79,211.00 M255.41,211.00 L256.88,203.71 Q257.51,200.98 258.14,203.71 L259.61,211.00 M270.69,211.00 L272.16,200.07 Q272.79,195.97 273.42,200.07 L274.89,211.00 M274.51,211.00 L275.98,201.89 Q276.61,198.47 277.24,201.89 L278.71,211.00 M282.15,211.00 L283.62,201.89 Q284.25,198.47 284.88,201.89 L286.35,211.00 M308.89,211.00 L310.36,201.89 Q310.99,198.47 311.63,201.89 L313.10,211.00 M312.71,211.00 L314.19,201.89 Q314.82,198.47 315.45,201.89 L316.92,211.00" fill="none" stroke="#1e1e1e" stroke-width="1.1" stroke-linejoin="round"/>
<line x1="199.2" y1="211.5" x2="352.7" y2="211.5" stroke="#222" stroke-width="1.2" />
<text x="377.00" y="152.10" font-size="9.1" fill="#222" stroke="#222" stroke-width="0.0" font-family="Liberation Sans" textLength="135.70" lengthAdjust="spacingAndGlyphs">3'-ETS-3: 5'HA-MS2 junction sequencing</text>
<line x1="375.6" y1="168" x2="446" y2="168" stroke="#f0c286" stroke-width="1.4" />
<line x1="447" y1="168" x2="510" y2="168" stroke="#e48cb0" stroke-width="1.4" />
<text x="397.70" y="166.00" font-size="5.6" fill="#222" stroke="#222" stroke-width="0.0" font-family="Liberation Sans" textLength="14.30" lengthAdjust="spacingAndGlyphs">3'-ETS</text>
<text x="471.50" y="166.00" font-size="5.6" fill="#222" stroke="#222" stroke-width="0.0" font-family="Liberation Sans" textLength="23.50" lengthAdjust="spacingAndGlyphs">17XMS2V5</text>
<text x="369.20" y="175.00" font-size="6.4" fill="#222" stroke="#222" stroke-width="0.0" font-family="Liberation Sans" textLength="5.07" lengthAdjust="spacingAndGlyphs">5'-</text>
<text x="374.27" y="175.00" font-size="6.4" fill="#e9a246" stroke="#e9a246" stroke-width="0.0" font-family="Liberation Sans" textLength="68.32" lengthAdjust="spacingAndGlyphs">CGGGGAGCGTGGTTTGGGAG</text>
<text x="442.59" y="175.00" font-size="6.4" fill="#cc3f74" stroke="#cc3f74" stroke-width="0.0" font-family="Liberation Sans" textLength="66.15" lengthAdjust="spacingAndGlyphs">GAAGGTGACAACCGGTAACC</text>
<text x="508.73" y="175.00" font-size="6.4" fill="#222" stroke="#222" stroke-width="0.0" font-family="Liberation Sans" textLength="5.07" lengthAdjust="spacingAndGlyphs">-3'</text>
<text x="378.78" y="185.2" font-size="4.7" fill="#7f9ad8" font-family="Liberation Serif" text-anchor="middle">C</text>
<text x="382.93" y="185.2" font-size="4.7" fill="#808080" font-family="Liberation Serif" text-anchor="middle">G</text>
<text x="387.09" y="185.2" font-size="4.7" fill="#808080" font-family="Liberation Serif" text-anchor="middle">G</text>
<text x="391.24" y="185.2" font-size="4.7" fill="#808080" font-family="Liberation Serif" text-anchor="middle">G</text>
<text x="395.40" y="185.2" font-size="4.7" fill="#808080" font-family="Liberation Serif" text-anchor="middle">G</text>
<text x="399.55" y="185.2" font-size="4.7" fill="#9ad088" font-family="Liberation Serif" text-anchor="middle">A</text>
<text x="403.70" y="185.2" font-size="4.7" fill="#808080" font-family="Liberation Serif" text-anchor="middle">G</text>
<text x="407.86" y="185.2" font-size="4.7" fill="#7f9ad8" font-family="Liberation Serif" text-anchor="middle">C</text>
<text x="412.01" y="185.2" font-size="4.7" fill="#808080" font-family="Liberation Serif" text-anchor="middle">G</text>
<text x="416.17" y="185.2" font-size="4.7" fill="#e88a8a" font-family="Liberation Serif" text-anchor="middle">T</text>
<text x="420.32" y="185.2" font-size="4.7" fill="#808080" font-family="Liberation Serif" text-anchor="middle">G</text>
<text x="424.48" y="185.2" font-size="4.7" fill="#808080" font-family="Liberation Serif" text-anchor="middle">G</text>
<text x="428.63" y="185.2" font-size="4.7" fill="#e88a8a" font-family="Liberation Serif" text-anchor="middle">T</text>
<text x="432.79" y="185.2" font-size="4.7" fill="#e88a8a" font-family="Liberation Serif" text-anchor="middle">T</text>
<text x="436.94" y="185.2" font-size="4.7" fill="#e88a8a" font-family="Liberation Serif" text-anchor="middle">T</text>
<text x="441.10" y="185.2" font-size="4.7" fill="#808080" font-family="Liberation Serif" text-anchor="middle">G</text>
<text x="445.25" y="185.2" font-size="4.7" fill="#808080" font-family="Liberation Serif" text-anchor="middle">G</text>
<text x="449.40" y="185.2" font-size="4.7" fill="#808080" font-family="Liberation Serif" text-anchor="middle">G</text>
<text x="453.56" y="185.2" font-size="4.7" fill="#9ad088" font-family="Liberation Serif" text-anchor="middle">A</text>
<text x="457.71" y="185.2" font-size="4.7" fill="#808080" font-family="Liberation Serif" text-anchor="middle">G</text>
<text x="461.87" y="185.2" font-size="4.7" fill="#808080" font-family="Liberation Serif" text-anchor="middle">G</text>
<text x="466.02" y="185.2" font-size="4.7" fill="#9ad088" font-family="Liberation Serif" text-anchor="middle">A</text>
<text x="470.18" y="185.2" font-size="4.7" fill="#9ad088" font-family="Liberation Serif" text-anchor="middle">A</text>
<text x="474.33" y="185.2" font-size="4.7" fill="#808080" font-family="Liberation Serif" text-anchor="middle">G</text>
<text x="478.49" y="185.2" font-size="4.7" fill="#808080" font-family="Liberation Serif" text-anchor="middle">G</text>
<text x="482.64" y="185.2" font-size="4.7" fill="#e88a8a" font-family="Liberation Serif" text-anchor="middle">T</text>
<text x="486.80" y="185.2" font-size="4.7" fill="#808080" font-family="Liberation Serif" text-anchor="middle">G</text>
<text x="490.95" y="185.2" font-size="4.7" fill="#9ad088" font-family="Liberation Serif" text-anchor="middle">A</text>
<text x="495.10" y="185.2" font-size="4.7" fill="#7f9ad8" font-family="Liberation Serif" text-anchor="middle">C</text>
<text x="499.26" y="185.2" font-size="4.7" fill="#9ad088" font-family="Liberation Serif" text-anchor="middle">A</text>
<text x="503.41" y="185.2" font-size="4.7" fill="#9ad088" font-family="Liberation Serif" text-anchor="middle">A</text>
<text x="507.57" y="185.2" font-size="4.7" fill="#7f9ad8" font-family="Liberation Serif" text-anchor="middle">C</text>
<text x="511.72" y="185.2" font-size="4.7" fill="#7f9ad8" font-family="Liberation Serif" text-anchor="middle">C</text>
<path d="M413.42,212.20 L415.00,202.39 Q415.67,198.71 416.35,202.39 L417.93,212.20 M425.71,212.20 L427.29,200.75 Q427.96,196.46 428.64,200.75 L430.22,212.20 M429.81,212.20 L431.38,205.66 Q432.06,203.20 432.74,205.66 L434.31,212.20 M433.90,212.20 L435.48,200.75 Q436.16,196.46 436.83,200.75 L438.41,212.20 M478.97,212.20 L480.55,200.75 Q481.22,196.46 481.90,200.75 L483.48,212.20" fill="none" stroke="#dc3434" stroke-width="1.1" stroke-linejoin="round"/>
<path d="M376.55,212.20 L378.12,197.48 Q378.80,191.96 379.48,197.48 L381.05,212.20 M405.22,212.20 L406.80,199.12 Q407.48,194.21 408.15,199.12 L409.73,212.20 M491.26,212.20 L492.84,200.75 Q493.51,196.46 494.19,200.75 L495.77,212.20 M503.55,212.20 L505.13,200.75 Q505.80,196.46 506.48,200.75 L508.06,212.20 M507.65,212.20 L509.22,197.48 Q509.90,191.96 510.58,197.48 L512.15,212.20" fill="none" stroke="#3a5cc6" stroke-width="1.1" stroke-linejoin="round"/>
<path d="M397.03,212.20 L398.61,200.75 Q399.28,196.46 399.96,200.75 L401.54,212.20 M450.29,212.20 L451.87,200.75 Q452.54,196.46 453.22,200.75 L454.80,212.20 M462.58,212.20 L464.16,200.75 Q464.83,196.46 465.51,200.75 L467.09,212.20 M466.68,212.20 L468.26,202.39 Q468.93,198.71 469.61,202.39 L471.18,212.20 M487.16,212.20 L488.74,200.75 Q489.42,196.46 490.09,200.75 L491.67,212.20 M495.36,212.20 L496.93,202.39 Q497.61,198.71 498.29,202.39 L499.86,212.20 M499.45,212.20 L501.03,207.29 Q501.71,205.45 502.38,207.29 L503.96,212.20" fill="none" stroke="#6cbf4a" stroke-width="1.1" stroke-linejoin="round"/>
<path d="M380.64,212.20 L382.22,202.39 Q382.90,198.71 383.57,202.39 L385.15,212.20 M384.74,212.20 L386.32,202.39 Q386.99,198.71 387.67,202.39 L389.25,212.20 M388.84,212.20 L390.41,202.39 Q391.09,198.71 391.77,202.39 L393.34,212.20 M392.93,212.20 L394.51,200.75 Q395.19,196.46 395.86,200.75 L397.44,212.20 M401.13,212.20 L402.71,204.02 Q403.38,200.96 404.06,204.02 L405.63,212.20 M409.32,212.20 L410.90,204.02 Q411.57,200.96 412.25,204.02 L413.83,212.20 M417.52,212.20 L419.09,204.02 Q419.77,200.96 420.44,204.02 L422.02,212.20 M421.61,212.20 L423.19,204.02 Q423.87,200.96 424.54,204.02 L426.12,212.20 M438.00,212.20 L439.58,200.75 Q440.25,196.46 440.93,200.75 L442.51,212.20 M442.10,212.20 L443.67,199.12 Q444.35,194.21 445.03,199.12 L446.60,212.20 M446.19,212.20 L447.77,199.12 Q448.45,194.21 449.12,199.12 L450.70,212.20 M454.39,212.20 L455.96,197.48 Q456.64,191.96 457.32,197.48 L458.89,212.20 M458.48,212.20 L460.06,199.12 Q460.74,194.21 461.41,199.12 L462.99,212.20 M470.77,212.20 L472.35,197.48 Q473.03,191.96 473.70,197.48 L475.28,212.20 M474.87,212.20 L476.45,200.75 Q477.12,196.46 477.80,200.75 L479.38,212.20 M483.07,212.20 L484.64,200.75 Q485.32,196.46 485.99,200.75 L487.57,212.20" fill="none" stroke="#1e1e1e" stroke-width="1.1" stroke-linejoin="round"/>
<line x1="376.7" y1="212.7" x2="513.8" y2="212.7" stroke="#222" stroke-width="1.2" />
<rect x="13.5" y="242.3" width="506.0" height="129.7" fill="none" stroke="#cfcfcf" stroke-width="1.2"/>
<text x="0.0" y="251.5" font-size="13.3" fill="#111" stroke="#111" stroke-width="0.15" font-family="Liberation Sans">C</text>
<text x="17.50" y="252.10" font-size="7.9" fill="#222" stroke="#222" stroke-width="0.0" font-family="Liberation Sans" textLength="79.50" lengthAdjust="spacingAndGlyphs">Validation of ITS1 clone</text>
<text x="31.25" y="274.60" font-size="6.8" fill="#222" stroke="#222" stroke-width="0.0" font-family="Liberation Sans" textLength="11.25" lengthAdjust="spacingAndGlyphs">47S</text>
<rect x="45.5" y="269.8" width="244.0" height="5.599999999999966" fill="#c4c4c4" stroke="#3a3a3a" stroke-width="0.9" rx="0.8"/>
<line x1="105.5" y1="269.8" x2="105.5" y2="275.4" stroke="#2a2a2a" stroke-width="1.0" />
<line x1="143.75" y1="269.8" x2="143.75" y2="275.4" stroke="#2a2a2a" stroke-width="1.0" />
<line x1="167" y1="269.8" x2="167" y2="275.4" stroke="#2a2a2a" stroke-width="1.0" />
<line x1="196.25" y1="269.8" x2="196.25" y2="275.4" stroke="#2a2a2a" stroke-width="1.0" />
<line x1="219.5" y1="269.8" x2="219.5" y2="275.4" stroke="#2a2a2a" stroke-width="1.0" />
<line x1="266.25" y1="269.8" x2="266.25" y2="275.4" stroke="#2a2a2a" stroke-width="1.0" />
<text x="68.75" y="267.60" font-size="7.0" fill="#222" stroke="#222" stroke-width="0.0" font-family="Liberation Sans" textLength="18.75" lengthAdjust="spacingAndGlyphs">5'-ETS</text>
<text x="119.25" y="267.60" font-size="7.0" fill="#222" stroke="#222" stroke-width="0.0" font-family="Liberation Sans" textLength="10.75" lengthAdjust="spacingAndGlyphs">18S</text>
<text x="152.50" y="267.60" font-size="7.0" fill="#222" stroke="#222" stroke-width="0.0" font-family="Liberation Sans" textLength="12.50" lengthAdjust="spacingAndGlyphs">ITS1</text>
<text x="175.00" y="267.60" font-size="7.0" fill="#222" stroke="#222" stroke-width="0.0" font-family="Liberation Sans" textLength="13.00" lengthAdjust="spacingAndGlyphs">5.8S</text>
<text x="201.25" y="267.60" font-size="7.0" fill="#222" stroke="#222" stroke-width="0.0" font-family="Liberation Sans" textLength="13.75" lengthAdjust="spacingAndGlyphs">ITS2</text>
<text x="236.25" y="267.60" font-size="7.0" fill="#222" stroke="#222" stroke-width="0.0" font-family="Liberation Sans" textLength="10.75" lengthAdjust="spacingAndGlyphs">28S</text>
<text x="269.50" y="267.60" font-size="7.0" fill="#222" stroke="#222" stroke-width="0.0" font-family="Liberation Sans" textLength="19.25" lengthAdjust="spacingAndGlyphs">3'-ETS</text>
<g><circle cx="149.5" cy="258.8" r="1.45" fill="none" stroke="#222" stroke-width="0.75"/><circle cx="146.3" cy="265.1" r="1.45" fill="none" stroke="#222" stroke-width="0.75"/><path d="M150.2,260.1 L152.5,265.3" stroke="#111" stroke-width="0.8"/><path d="M147.70000000000002,265.20000000000005 L152.5,265.3" stroke="#111" stroke-width="0.8"/><path d="M151.4,264.8 L153.6,265.8 L154.7,269.7 Z" fill="#111" stroke="#111" stroke-width="0.9"/><path d="M152.1,264.2 L152.9,266.40000000000003 L160.9,267.40000000000003 Z" fill="#111" stroke="#111" stroke-width="0.9"/></g>
<line x1="148" y1="275.8" x2="54" y2="292.7" stroke="#222" stroke-width="1.4" stroke-dasharray="3.6,2.6"/>
<line x1="160" y1="275.8" x2="224.4" y2="294.2" stroke="#222" stroke-width="1.4" stroke-dasharray="3.6,2.6"/>
<circle cx="56.5" cy="296.6" r="0.6" fill="#222"/>
<line x1="60" y1="296.6" x2="64" y2="296.6" stroke="#222" stroke-width="1.3" />
<line x1="67" y1="296.6" x2="70" y2="296.6" stroke="#222" stroke-width="1.3" />
<text x="71.90" y="298.80" font-size="6.5" fill="#222" stroke="#222" stroke-width="0.0" font-family="Liberation Sans" textLength="11.00" lengthAdjust="spacingAndGlyphs">ITS1</text>
<line x1="83" y1="296.6" x2="87" y2="296.6" stroke="#222" stroke-width="1.3" />
<text x="91.00" y="298.80" font-size="6.6" fill="#333" stroke="#333" stroke-width="0.0" font-family="Liberation Sans" textLength="86.36" lengthAdjust="spacingAndGlyphs">CGGGTGGGGGCTTTACCCGG</text>
<text x="177.36" y="298.80" font-size="6.6" fill="#e03030" stroke="#e03030" stroke-width="0.0" font-family="Liberation Sans" textLength="13.64" lengthAdjust="spacingAndGlyphs">CGG</text>
<line x1="192" y1="296.8" x2="195" y2="296.8" stroke="#222" stroke-width="1.3" />
<line x1="198" y1="296.8" x2="200" y2="296.8" stroke="#222" stroke-width="1.3" />
<text x="200.20" y="298.80" font-size="6.5" fill="#222" stroke="#222" stroke-width="0.0" font-family="Liberation Sans" textLength="12.10" lengthAdjust="spacingAndGlyphs">ITS1</text>
<line x1="212.5" y1="296.8" x2="215" y2="296.8" stroke="#222" stroke-width="1.3" />
<line x1="218.8" y1="296.8" x2="220.2" y2="296.8" stroke="#222" stroke-width="1.3" />
<text x="130.00" y="291.30" font-size="7.0" fill="#e03030" stroke="#e03030" stroke-width="0.0" font-family="Liberation Sans" textLength="18.75" lengthAdjust="spacingAndGlyphs">sgRNA</text>
<g><circle cx="160.5" cy="282.5" r="1.45" fill="none" stroke="#222" stroke-width="0.75"/><circle cx="157.3" cy="288.8" r="1.45" fill="none" stroke="#222" stroke-width="0.75"/><path d="M161.2,283.8 L163.5,289" stroke="#111" stroke-width="0.8"/><path d="M158.70000000000002,288.90000000000003 L163.5,289" stroke="#111" stroke-width="0.8"/><path d="M162.4,288.5 L164.6,289.5 L165.7,293.4 Z" fill="#111" stroke="#111" stroke-width="0.9"/><path d="M163.1,287.9 L163.9,290.1 L171.9,291.1 Z" fill="#111" stroke="#111" stroke-width="0.9"/></g>
<line x1="143.75" y1="302.5" x2="143.75" y2="315.75" stroke="#222" stroke-width="0.9" />
<path d="M141.75,314.75 L145.75,314.75 L143.75,318.75 Z" fill="#222"/>
<text x="26.25" y="335.60" font-size="6.8" fill="#222" stroke="#222" stroke-width="0.0" font-family="Liberation Sans" textLength="10.75" lengthAdjust="spacingAndGlyphs">47S</text>
<rect x="40.5" y="330.3" width="110.0" height="5.5" fill="#c4c4c4" stroke="#3a3a3a" stroke-width="0.9"/>
<rect x="204.5" y="330.3" width="134.10000000000002" height="5.5" fill="#c4c4c4" stroke="#3a3a3a" stroke-width="0.9" rx="0.8"/>
<rect x="150.5" y="330.3" width="54.0" height="5.5" fill="#f6f4f8"/>
<rect x="150.50" y="330.3" width="3.78" height="5.5" fill="#b2828a"/>
<rect x="156.78" y="330.3" width="3.78" height="5.5" fill="#b2828a"/>
<rect x="163.06" y="330.3" width="3.78" height="5.5" fill="#b2828a"/>
<rect x="169.33" y="330.3" width="3.78" height="5.5" fill="#b2828a"/>
<rect x="175.61" y="330.3" width="3.78" height="5.5" fill="#b2828a"/>
<rect x="181.89" y="330.3" width="3.78" height="5.5" fill="#b2828a"/>
<rect x="188.17" y="330.3" width="3.78" height="5.5" fill="#b2828a"/>
<rect x="194.44" y="330.3" width="3.78" height="5.5" fill="#b2828a"/>
<rect x="200.72" y="330.3" width="3.78" height="5.5" fill="#b2828a"/>
<line x1="150.5" y1="330.55" x2="204.5" y2="330.55" stroke="#a8a8b0" stroke-width="0.5"/>
<line x1="150.5" y1="335.55" x2="204.5" y2="335.55" stroke="#a8a8b0" stroke-width="0.5"/>
<line x1="100" y1="330.3" x2="100" y2="335.8" stroke="#2a2a2a" stroke-width="1.0" />
<line x1="138.75" y1="330.3" x2="138.75" y2="335.8" stroke="#2a2a2a" stroke-width="1.0" />
<line x1="216.25" y1="330.3" x2="216.25" y2="335.8" stroke="#2a2a2a" stroke-width="1.0" />
<line x1="245.6" y1="330.3" x2="245.6" y2="335.8" stroke="#2a2a2a" stroke-width="1.0" />
<line x1="269" y1="330.3" x2="269" y2="335.8" stroke="#2a2a2a" stroke-width="1.0" />
<line x1="316.3" y1="330.3" x2="316.3" y2="335.8" stroke="#2a2a2a" stroke-width="1.0" />
<text x="63.00" y="328.40" font-size="7.0" fill="#222" stroke="#222" stroke-width="0.0" font-family="Liberation Sans" textLength="19.50" lengthAdjust="spacingAndGlyphs">5'-ETS</text>
<text x="113.75" y="328.40" font-size="7.0" fill="#222" stroke="#222" stroke-width="0.0" font-family="Liberation Sans" textLength="10.75" lengthAdjust="spacingAndGlyphs">18S</text>
<text x="139.50" y="328.40" font-size="7.0" fill="#222" stroke="#222" stroke-width="0.0" font-family="Liberation Sans" textLength="13.00" lengthAdjust="spacingAndGlyphs">ITS1</text>
<text x="160.00" y="328.40" font-size="7.0" fill="#222" stroke="#222" stroke-width="0.0" font-family="Liberation Sans" textLength="31.25" lengthAdjust="spacingAndGlyphs">17XMS2V5</text>
<text x="205.00" y="328.40" font-size="7.0" fill="#222" stroke="#222" stroke-width="0.0" font-family="Liberation Sans" textLength="12.50" lengthAdjust="spacingAndGlyphs">ITS1</text>
<text x="225.00" y="328.40" font-size="7.0" fill="#222" stroke="#222" stroke-width="0.0" font-family="Liberation Sans" textLength="13.00" lengthAdjust="spacingAndGlyphs">5.8S</text>
<text x="251.00" y="328.40" font-size="7.0" fill="#222" stroke="#222" stroke-width="0.0" font-family="Liberation Sans" textLength="13.50" lengthAdjust="spacingAndGlyphs">ITS2</text>
<text x="285.30" y="328.40" font-size="7.0" fill="#222" stroke="#222" stroke-width="0.0" font-family="Liberation Sans" textLength="11.50" lengthAdjust="spacingAndGlyphs">28S</text>
<text x="319.00" y="328.40" font-size="7.0" fill="#222" stroke="#222" stroke-width="0.0" font-family="Liberation Sans" textLength="18.80" lengthAdjust="spacingAndGlyphs">3'-ETS</text>
<text x="78.00" y="346.30" font-size="7" fill="#222" stroke="#222" stroke-width="0.0" font-family="Liberation Sans" textLength="42.00" lengthAdjust="spacingAndGlyphs">Primer design</text>
<text x="262.90" y="346.10" font-size="7" fill="#222" stroke="#222" stroke-width="0.0" font-family="Liberation Sans" textLength="83.00" lengthAdjust="spacingAndGlyphs">knock-in positive / negative</text>
<text x="292.50" y="356.10" font-size="6.8" fill="#222" stroke="#222" stroke-width="0.0" font-family="Liberation Sans" textLength="44.50" lengthAdjust="spacingAndGlyphs">1711 bp / 0 bp</text>
<text x="292.50" y="366.80" font-size="6.8" fill="#222" stroke="#222" stroke-width="0.0" font-family="Liberation Sans" textLength="40.50" lengthAdjust="spacingAndGlyphs">931 bp / 0 bp</text>
<text x="117.00" y="356.80" font-size="7" fill="#222" stroke="#222" stroke-width="0.0" font-family="Liberation Sans" textLength="8.00" lengthAdjust="spacingAndGlyphs">F2</text>
<line x1="126.25" y1="354.5" x2="132.5" y2="354.5" stroke="#b81c1c" stroke-width="2.0" />
<line x1="132.5" y1="354.5" x2="173.75" y2="354.5" stroke="#111" stroke-width="1.8" />
<line x1="173.75" y1="354.5" x2="180" y2="354.5" stroke="#b81c1c" stroke-width="2.0" />
<text x="182.00" y="356.80" font-size="7" fill="#222" stroke="#222" stroke-width="0.0" font-family="Liberation Sans" textLength="8.50" lengthAdjust="spacingAndGlyphs">R1</text>
<text x="163.00" y="366.30" font-size="7" fill="#222" stroke="#222" stroke-width="0.0" font-family="Liberation Sans" textLength="8.25" lengthAdjust="spacingAndGlyphs">F3</text>
<line x1="173.75" y1="363.8" x2="180" y2="363.8" stroke="#b81c1c" stroke-width="2.0" />
<line x1="180" y1="363.8" x2="225" y2="363.8" stroke="#111" stroke-width="1.8" />
<line x1="225" y1="363.8" x2="230.75" y2="363.8" stroke="#b81c1c" stroke-width="2.0" />
<text x="232.50" y="366.30" font-size="7" fill="#222" stroke="#222" stroke-width="0.0" font-family="Liberation Sans" textLength="8.75" lengthAdjust="spacingAndGlyphs">R2</text>
<text x="355.90" y="261.30" font-size="6.8" fill="#222" stroke="#222" stroke-width="0.0" font-family="Liberation Sans" textLength="18.60" lengthAdjust="spacingAndGlyphs">1 . WT</text>
<text x="384.30" y="261.30" font-size="6.8" fill="#222" stroke="#222" stroke-width="0.0" font-family="Liberation Sans" textLength="43.20" lengthAdjust="spacingAndGlyphs">2 . ITS1 clone</text>
<text x="433.30" y="261.30" font-size="6.8" fill="#222" stroke="#222" stroke-width="0.0" font-family="Liberation Sans" textLength="19.70" lengthAdjust="spacingAndGlyphs">3 . WT</text>
<text x="458.80" y="261.30" font-size="6.8" fill="#222" stroke="#222" stroke-width="0.0" font-family="Liberation Sans" textLength="42.20" lengthAdjust="spacingAndGlyphs">4 . ITS1 clone</text>
<text x="382.70" y="275.00" font-size="6.8" fill="#222" stroke="#222" stroke-width="0.0" font-family="Liberation Sans" textLength="21.30" lengthAdjust="spacingAndGlyphs">F2+R1</text>
<text x="408.80" y="275.00" font-size="6.8" fill="#222" stroke="#222" stroke-width="0.0" font-family="Liberation Sans" textLength="21.20" lengthAdjust="spacingAndGlyphs">F3+R2</text>
<line x1="384.2" y1="277.7" x2="405.8" y2="277.7" stroke="#222" stroke-width="1.2" />
<line x1="407.7" y1="277.7" x2="429.8" y2="277.7" stroke="#222" stroke-width="1.2" />
<rect x="384.00" y="279.00" width="57.90" height="77.80" rx="0" fill="#7b7c80" opacity="1"/>
<rect x="396.90" y="327.50" width="9.10" height="2.60" rx="0" fill="#000" opacity="1" filter="url(#blur)"/>
<rect x="396.90" y="334.60" width="9.10" height="1.30" rx="0" fill="#5a5a5a" opacity="0.7" filter="url(#blur)"/>
<rect x="396.90" y="338.80" width="9.10" height="1.30" rx="0" fill="#5a5a5a" opacity="0.6" filter="url(#blur)"/>
<rect x="419.40" y="325.80" width="9.30" height="2.40" rx="0" fill="#000" opacity="1" filter="url(#blur)"/>
<rect x="430.60" y="303.80" width="9.20" height="1.40" rx="0" fill="#2a2a2a" opacity="0.18" filter="url(#blur)"/>
<rect x="430.60" y="307.05" width="9.20" height="1.40" rx="0" fill="#2a2a2a" opacity="0.2" filter="url(#blur)"/>
<rect x="430.60" y="310.55" width="9.20" height="1.40" rx="0" fill="#2a2a2a" opacity="0.2" filter="url(#blur)"/>
<rect x="430.60" y="314.05" width="9.20" height="1.40" rx="0" fill="#2a2a2a" opacity="0.25" filter="url(#blur)"/>
<rect x="430.60" y="317.80" width="9.20" height="1.40" rx="0" fill="#2a2a2a" opacity="0.28" filter="url(#blur)"/>
<rect x="430.60" y="321.20" width="9.20" height="1.40" rx="0" fill="#2a2a2a" opacity="0.55" filter="url(#blur)"/>
<rect x="430.60" y="325.55" width="9.20" height="1.40" rx="0" fill="#2a2a2a" opacity="0.35" filter="url(#blur)"/>
<rect x="430.60" y="329.30" width="9.20" height="1.40" rx="0" fill="#2a2a2a" opacity="0.45" filter="url(#blur)"/>
<rect x="430.60" y="334.55" width="9.20" height="1.40" rx="0" fill="#2a2a2a" opacity="0.95" filter="url(#blur)"/>
<rect x="430.60" y="342.40" width="9.20" height="1.40" rx="0" fill="#2a2a2a" opacity="0.4" filter="url(#blur)"/>
<rect x="430.60" y="349.30" width="9.20" height="1.40" rx="0" fill="#2a2a2a" opacity="0.35" filter="url(#blur)"/>
<text x="388.2" y="286.4" font-size="6" fill="#1a1a1a" font-family="Liberation Sans" text-anchor="middle">1</text>
<text x="400.6" y="286.4" font-size="6" fill="#1a1a1a" font-family="Liberation Sans" text-anchor="middle">2</text>
<text x="411.9" y="286.4" font-size="6" fill="#1a1a1a" font-family="Liberation Sans" text-anchor="middle">3</text>
<text x="422.5" y="286.4" font-size="6" fill="#1a1a1a" font-family="Liberation Sans" text-anchor="middle">4</text>
<text x="434.4" y="286.4" font-size="6" fill="#1a1a1a" font-family="Liberation Sans" text-anchor="middle">M</text>
<text x="449" y="301" font-size="5" fill="#222" font-family="Liberation Sans">Kb</text>
<line x1="442.6" y1="306.5" x2="445.8" y2="306.5" stroke="#333" stroke-width="0.7" />
<text x="447.40" y="308.10" font-size="4.8" fill="#333" font-family="Liberation Sans">8.00</text>
<line x1="442.6" y1="314.6" x2="445.8" y2="314.6" stroke="#333" stroke-width="0.7" />
<text x="447.40" y="316.20" font-size="4.8" fill="#333" font-family="Liberation Sans">3.00</text>
<line x1="442.6" y1="321.5" x2="445.8" y2="321.5" stroke="#333" stroke-width="0.7" />
<text x="447.40" y="323.10" font-size="4.8" fill="#333" font-family="Liberation Sans">1.50</text>
<line x1="442.6" y1="326.7" x2="445.8" y2="326.7" stroke="#333" stroke-width="0.7" />
<text x="447.40" y="328.30" font-size="4.8" fill="#333" font-family="Liberation Sans">1.00</text>
<line x1="442.6" y1="330.6" x2="445.8" y2="330.6" stroke="#333" stroke-width="0.7" />
<text x="447.40" y="332.20" font-size="4.8" fill="#333" font-family="Liberation Sans">0.75</text>
<line x1="442.6" y1="335.4" x2="445.8" y2="335.4" stroke="#333" stroke-width="0.7" />
<text x="447.40" y="337.00" font-size="4.8" fill="#333" font-family="Liberation Sans">0.50</text>
<line x1="442.6" y1="343" x2="445.8" y2="343" stroke="#333" stroke-width="0.7" />
<text x="447.40" y="344.60" font-size="4.8" fill="#333" font-family="Liberation Sans">0.25</text>
<line x1="442.6" y1="349.8" x2="445.8" y2="349.8" stroke="#333" stroke-width="0.7" />
<text x="447.40" y="351.40" font-size="4.8" fill="#333" font-family="Liberation Sans">0.10</text>
<rect x="13.5" y="378.2" width="506.0" height="85.80000000000001" fill="none" stroke="#cfcfcf" stroke-width="1.2"/>
<text x="0.0" y="387.7" font-size="13.3" fill="#111" stroke="#111" stroke-width="0.15" font-family="Liberation Sans">D</text>
<text x="18.75" y="389.60" font-size="8.8" fill="#222" stroke="#222" stroke-width="0.0" font-family="Liberation Sans" textLength="122.05" lengthAdjust="spacingAndGlyphs">ITS1: 5'HA-MS2 junction sequencing</text>
<line x1="21.25" y1="408.3" x2="93.75" y2="408.3" stroke="#8a8a8a" stroke-width="1.4" />
<line x1="96.25" y1="408.3" x2="162.9" y2="408.3" stroke="#f0c286" stroke-width="1.4" />
<line x1="189.3" y1="408.3" x2="266" y2="408.3" stroke="#e48cb0" stroke-width="1.4" />
<text x="54.50" y="406.00" font-size="6.8" fill="#222" stroke="#222" stroke-width="0.0" font-family="Liberation Sans" textLength="9.25" lengthAdjust="spacingAndGlyphs">18S</text>
<text x="123.75" y="406.00" font-size="6.8" fill="#222" stroke="#222" stroke-width="0.0" font-family="Liberation Sans" textLength="11.25" lengthAdjust="spacingAndGlyphs">ITS1</text>
<text x="219.00" y="406.00" font-size="6.8" fill="#222" stroke="#222" stroke-width="0.0" font-family="Liberation Sans" textLength="28.30" lengthAdjust="spacingAndGlyphs">17XMS2V5</text>
<text x="15.50" y="417.30" font-size="6.9" fill="#222" stroke="#222" stroke-width="0.0" font-family="Liberation Sans" textLength="79.78" lengthAdjust="spacingAndGlyphs">5'-AACCTGCGGAAGGATCATTA</text>
<text x="95.28" y="417.30" font-size="6.9" fill="#e9a246" stroke="#e9a246" stroke-width="0.0" font-family="Liberation Sans" textLength="68.22" lengthAdjust="spacingAndGlyphs">ACGGAGCCCGGAGGGCG</text>
<text x="163.50" y="417.30" font-size="6.9" fill="#222" stroke="#222" stroke-width="0.0" font-family="Liberation Sans" textLength="26.15" lengthAdjust="spacingAndGlyphs">--deletion--</text>
<text x="189.64" y="417.30" font-size="6.9" fill="#cc3f74" stroke="#cc3f74" stroke-width="0.0" font-family="Liberation Sans" textLength="76.62" lengthAdjust="spacingAndGlyphs">GAGGAACACCCCACCCTCCA</text>
<text x="266.26" y="417.30" font-size="6.9" fill="#222" stroke="#222" stroke-width="0.0" font-family="Liberation Sans" textLength="5.84" lengthAdjust="spacingAndGlyphs">-3'</text>
<text x="23.18" y="427" font-size="5.3" fill="#9ad088" font-family="Liberation Serif" text-anchor="middle">A</text>
<text x="27.55" y="427" font-size="5.3" fill="#9ad088" font-family="Liberation Serif" text-anchor="middle">A</text>
<text x="31.91" y="427" font-size="5.3" fill="#7f9ad8" font-family="Liberation Serif" text-anchor="middle">C</text>
<text x="36.28" y="427" font-size="5.3" fill="#7f9ad8" font-family="Liberation Serif" text-anchor="middle">C</text>
<text x="40.64" y="427" font-size="5.3" fill="#e88a8a" font-family="Liberation Serif" text-anchor="middle">T</text>
<text x="45.01" y="427" font-size="5.3" fill="#808080" font-family="Liberation Serif" text-anchor="middle">G</text>
<text x="49.37" y="427" font-size="5.3" fill="#7f9ad8" font-family="Liberation Serif" text-anchor="middle">C</text>
<text x="53.74" y="427" font-size="5.3" fill="#808080" font-family="Liberation Serif" text-anchor="middle">G</text>
<text x="58.10" y="427" font-size="5.3" fill="#808080" font-family="Liberation Serif" text-anchor="middle">G</text>
<text x="62.47" y="427" font-size="5.3" fill="#9ad088" font-family="Liberation Serif" text-anchor="middle">A</text>
<text x="66.83" y="427" font-size="5.3" fill="#9ad088" font-family="Liberation Serif" text-anchor="middle">A</text>
<text x="71.20" y="427" font-size="5.3" fill="#808080" font-family="Liberation Serif" text-anchor="middle">G</text>
<text x="75.56" y="427" font-size="5.3" fill="#808080" font-family="Liberation Serif" text-anchor="middle">G</text>
<text x="79.93" y="427" font-size="5.3" fill="#9ad088" font-family="Liberation Serif" text-anchor="middle">A</text>
<text x="84.29" y="427" font-size="5.3" fill="#e88a8a" font-family="Liberation Serif" text-anchor="middle">T</text>
<text x="88.66" y="427" font-size="5.3" fill="#7f9ad8" font-family="Liberation Serif" text-anchor="middle">C</text>
<text x="93.02" y="427" font-size="5.3" fill="#9ad088" font-family="Liberation Serif" text-anchor="middle">A</text>
<text x="97.39" y="427" font-size="5.3" fill="#e88a8a" font-family="Liberation Serif" text-anchor="middle">T</text>
<text x="101.75" y="427" font-size="5.3" fill="#e88a8a" font-family="Liberation Serif" text-anchor="middle">T</text>
<text x="106.12" y="427" font-size="5.3" fill="#9ad088" font-family="Liberation Serif" text-anchor="middle">A</text>
<text x="110.48" y="427" font-size="5.3" fill="#9ad088" font-family="Liberation Serif" text-anchor="middle">A</text>
<text x="114.85" y="427" font-size="5.3" fill="#7f9ad8" font-family="Liberation Serif" text-anchor="middle">C</text>
<text x="119.21" y="427" font-size="5.3" fill="#808080" font-family="Liberation Serif" text-anchor="middle">G</text>
<text x="123.58" y="427" font-size="5.3" fill="#808080" font-family="Liberation Serif" text-anchor="middle">G</text>
<text x="127.94" y="427" font-size="5.3" fill="#9ad088" font-family="Liberation Serif" text-anchor="middle">A</text>
<text x="132.31" y="427" font-size="5.3" fill="#808080" font-family="Liberation Serif" text-anchor="middle">G</text>
<text x="136.67" y="427" font-size="5.3" fill="#7f9ad8" font-family="Liberation Serif" text-anchor="middle">C</text>
<text x="141.04" y="427" font-size="5.3" fill="#7f9ad8" font-family="Liberation Serif" text-anchor="middle">C</text>
<text x="145.40" y="427" font-size="5.3" fill="#7f9ad8" font-family="Liberation Serif" text-anchor="middle">C</text>
<text x="149.76" y="427" font-size="5.3" fill="#808080" font-family="Liberation Serif" text-anchor="middle">G</text>
<text x="154.13" y="427" font-size="5.3" fill="#808080" font-family="Liberation Serif" text-anchor="middle">G</text>
<text x="158.49" y="427" font-size="5.3" fill="#9ad088" font-family="Liberation Serif" text-anchor="middle">A</text>
<text x="162.86" y="427" font-size="5.3" fill="#808080" font-family="Liberation Serif" text-anchor="middle">G</text>
<text x="167.22" y="427" font-size="5.3" fill="#808080" font-family="Liberation Serif" text-anchor="middle">G</text>
<text x="171.59" y="427" font-size="5.3" fill="#808080" font-family="Liberation Serif" text-anchor="middle">G</text>
<text x="175.95" y="427" font-size="5.3" fill="#7f9ad8" font-family="Liberation Serif" text-anchor="middle">C</text>
<text x="180.32" y="427" font-size="5.3" fill="#808080" font-family="Liberation Serif" text-anchor="middle">G</text>
<text x="184.68" y="427" font-size="5.3" fill="#808080" font-family="Liberation Serif" text-anchor="middle">G</text>
<text x="189.05" y="427" font-size="5.3" fill="#9ad088" font-family="Liberation Serif" text-anchor="middle">A</text>
<text x="193.41" y="427" font-size="5.3" fill="#808080" font-family="Liberation Serif" text-anchor="middle">G</text>
<text x="197.78" y="427" font-size="5.3" fill="#808080" font-family="Liberation Serif" text-anchor="middle">G</text>
<text x="202.14" y="427" font-size="5.3" fill="#9ad088" font-family="Liberation Serif" text-anchor="middle">A</text>
<text x="206.51" y="427" font-size="5.3" fill="#9ad088" font-family="Liberation Serif" text-anchor="middle">A</text>
<text x="210.87" y="427" font-size="5.3" fill="#7f9ad8" font-family="Liberation Serif" text-anchor="middle">C</text>
<text x="215.24" y="427" font-size="5.3" fill="#9ad088" font-family="Liberation Serif" text-anchor="middle">A</text>
<text x="219.60" y="427" font-size="5.3" fill="#7f9ad8" font-family="Liberation Serif" text-anchor="middle">C</text>
<text x="223.97" y="427" font-size="5.3" fill="#7f9ad8" font-family="Liberation Serif" text-anchor="middle">C</text>
<text x="228.33" y="427" font-size="5.3" fill="#7f9ad8" font-family="Liberation Serif" text-anchor="middle">C</text>
<text x="232.70" y="427" font-size="5.3" fill="#7f9ad8" font-family="Liberation Serif" text-anchor="middle">C</text>
<text x="237.06" y="427" font-size="5.3" fill="#9ad088" font-family="Liberation Serif" text-anchor="middle">A</text>
<text x="241.43" y="427" font-size="5.3" fill="#7f9ad8" font-family="Liberation Serif" text-anchor="middle">C</text>
<text x="245.79" y="427" font-size="5.3" fill="#7f9ad8" font-family="Liberation Serif" text-anchor="middle">C</text>
<text x="250.16" y="427" font-size="5.3" fill="#7f9ad8" font-family="Liberation Serif" text-anchor="middle">C</text>
<text x="254.52" y="427" font-size="5.3" fill="#e88a8a" font-family="Liberation Serif" text-anchor="middle">T</text>
<text x="258.89" y="427" font-size="5.3" fill="#7f9ad8" font-family="Liberation Serif" text-anchor="middle">C</text>
<text x="263.25" y="427" font-size="5.3" fill="#7f9ad8" font-family="Liberation Serif" text-anchor="middle">C</text>
<text x="267.62" y="427" font-size="5.3" fill="#9ad088" font-family="Liberation Serif" text-anchor="middle">A</text>
<path d="M33.91,457.80 L35.79,443.86 Q36.60,438.64 37.41,443.86 L39.29,457.80 M78.67,457.80 L80.54,445.85 Q81.35,441.37 82.16,445.85 L84.04,457.80 M92.09,457.80 L93.97,443.86 Q94.78,438.64 95.58,443.86 L97.46,457.80 M96.57,457.80 L98.44,443.86 Q99.25,438.64 100.06,443.86 L101.94,457.80 M253.19,457.80 L255.07,445.85 Q255.88,441.37 256.68,445.85 L258.56,457.80" fill="none" stroke="#dc3434" stroke-width="1.3" stroke-linejoin="round"/>
<path d="M24.96,457.80 L26.84,443.86 Q27.65,438.64 28.46,443.86 L30.33,457.80 M29.44,457.80 L31.32,443.86 Q32.12,438.64 32.93,443.86 L34.81,457.80 M42.86,457.80 L44.74,449.84 Q45.55,446.85 46.36,449.84 L48.23,457.80 M83.14,457.80 L85.02,447.84 Q85.83,444.11 86.63,447.84 L88.51,457.80 M109.99,457.80 L111.87,447.84 Q112.68,444.11 113.48,447.84 L115.36,457.80 M132.37,457.80 L134.24,451.83 Q135.05,449.59 135.86,451.83 L137.74,457.80 M136.84,457.80 L138.72,447.84 Q139.53,444.11 140.33,447.84 L142.21,457.80 M141.31,457.80 L143.19,447.84 Q144.00,444.11 144.81,447.84 L146.69,457.80 M172.64,457.80 L174.52,451.83 Q175.33,449.59 176.13,451.83 L178.01,457.80 M208.44,457.80 L210.32,445.85 Q211.12,441.37 211.93,445.85 L213.81,457.80 M217.39,457.80 L219.27,445.85 Q220.08,441.37 220.88,445.85 L222.76,457.80 M221.87,457.80 L223.74,445.85 Q224.55,441.37 225.36,445.85 L227.24,457.80 M226.34,457.80 L228.22,445.85 Q229.03,441.37 229.83,445.85 L231.71,457.80 M230.81,457.80 L232.69,445.85 Q233.50,441.37 234.31,445.85 L236.19,457.80 M239.77,457.80 L241.64,445.85 Q242.45,441.37 243.26,445.85 L245.14,457.80 M244.24,457.80 L246.12,445.85 Q246.93,441.37 247.73,445.85 L249.61,457.80 M248.72,457.80 L250.59,445.85 Q251.40,441.37 252.21,445.85 L254.09,457.80 M257.67,457.80 L259.54,447.84 Q260.35,444.11 261.16,447.84 L263.04,457.80 M262.14,457.80 L264.02,447.84 Q264.83,444.11 265.63,447.84 L267.51,457.80" fill="none" stroke="#3a5cc6" stroke-width="1.3" stroke-linejoin="round"/>
<path d="M16.02,457.80 L17.89,443.86 Q18.70,438.64 19.51,443.86 L21.38,457.80 M20.49,457.80 L22.37,445.85 Q23.18,441.37 23.98,445.85 L25.86,457.80 M56.29,457.80 L58.17,445.85 Q58.98,441.37 59.78,445.85 L61.66,457.80 M60.77,457.80 L62.64,445.85 Q63.45,441.37 64.26,445.85 L66.14,457.80 M74.19,457.80 L76.07,445.85 Q76.88,441.37 77.68,445.85 L79.56,457.80 M87.62,457.80 L89.49,449.84 Q90.30,446.85 91.11,449.84 L92.99,457.80 M101.04,457.80 L102.92,445.85 Q103.73,441.37 104.53,445.85 L106.41,457.80 M105.52,457.80 L107.39,449.84 Q108.20,446.85 109.01,449.84 L110.89,457.80 M123.42,457.80 L125.29,445.85 Q126.10,441.37 126.91,445.85 L128.78,457.80 M154.74,457.80 L156.62,445.85 Q157.43,441.37 158.23,445.85 L160.11,457.80 M186.06,457.80 L187.94,447.84 Q188.75,444.11 189.56,447.84 L191.44,457.80 M199.49,457.80 L201.37,443.86 Q202.18,438.64 202.98,443.86 L204.86,457.80 M203.97,457.80 L205.84,449.84 Q206.65,446.85 207.46,449.84 L209.34,457.80 M212.92,457.80 L214.79,449.84 Q215.60,446.85 216.41,449.84 L218.29,457.80 M235.29,457.80 L237.17,449.84 Q237.98,446.85 238.78,449.84 L240.66,457.80 M266.62,457.80 L268.49,449.84 Q269.30,446.85 270.11,449.84 L271.99,457.80" fill="none" stroke="#6cbf4a" stroke-width="1.3" stroke-linejoin="round"/>
<path d="M38.39,457.80 L40.27,439.88 Q41.08,433.16 41.88,439.88 L43.76,457.80 M47.34,457.80 L49.22,447.84 Q50.03,444.11 50.83,447.84 L52.71,457.80 M51.81,457.80 L53.69,447.84 Q54.50,444.11 55.31,447.84 L57.19,457.80 M65.24,457.80 L67.12,449.84 Q67.93,446.85 68.73,449.84 L70.61,457.80 M69.72,457.80 L71.59,441.87 Q72.40,435.90 73.21,441.87 L75.09,457.80 M114.47,457.80 L116.34,445.85 Q117.15,441.37 117.96,445.85 L119.84,457.80 M118.94,457.80 L120.82,447.84 Q121.63,444.11 122.43,447.84 L124.31,457.80 M127.89,457.80 L129.77,449.84 Q130.58,446.85 131.38,449.84 L133.26,457.80 M145.79,457.80 L147.67,445.85 Q148.47,441.37 149.28,445.85 L151.16,457.80 M150.27,457.80 L152.14,447.84 Q152.95,444.11 153.76,447.84 L155.64,457.80 M159.22,457.80 L161.09,449.84 Q161.90,446.85 162.71,449.84 L164.59,457.80 M163.69,457.80 L165.57,443.86 Q166.38,438.64 167.18,443.86 L169.06,457.80 M168.16,457.80 L170.04,449.84 Q170.85,446.85 171.66,449.84 L173.53,457.80 M177.12,457.80 L178.99,447.84 Q179.80,444.11 180.61,447.84 L182.49,457.80 M181.59,457.80 L183.47,449.84 Q184.28,446.85 185.08,449.84 L186.96,457.80 M190.54,457.80 L192.42,449.84 Q193.23,446.85 194.03,449.84 L195.91,457.80 M195.02,457.80 L196.89,445.85 Q197.70,441.37 198.51,445.85 L200.39,457.80" fill="none" stroke="#1e1e1e" stroke-width="1.3" stroke-linejoin="round"/>
<line x1="15.5" y1="458.3" x2="271.8" y2="458.3" stroke="#222" stroke-width="1.2" />
<text x="284.80" y="389.60" font-size="8.8" fill="#222" stroke="#222" stroke-width="0.0" font-family="Liberation Sans" textLength="122.20" lengthAdjust="spacingAndGlyphs">ITS1: MS2-3'HA junction sequencing</text>
<line x1="291" y1="408.1" x2="363.8" y2="408.1" stroke="#e48cb0" stroke-width="1.4" />
<line x1="365.1" y1="408.1" x2="427.2" y2="408.1" stroke="#9ccaf0" stroke-width="1.4" />
<line x1="428.5" y1="408.1" x2="509.4" y2="408.1" stroke="#f0c286" stroke-width="1.4" />
<text x="309.90" y="406.00" font-size="6.8" fill="#222" stroke="#222" stroke-width="0.0" font-family="Liberation Sans" textLength="28.30" lengthAdjust="spacingAndGlyphs">17XMS2V5</text>
<text x="391.30" y="406.00" font-size="6.8" fill="#222" stroke="#222" stroke-width="0.0" font-family="Liberation Sans" textLength="12.40" lengthAdjust="spacingAndGlyphs">sg85</text>
<text x="466.80" y="406.00" font-size="6.8" fill="#222" stroke="#222" stroke-width="0.0" font-family="Liberation Sans" textLength="12.40" lengthAdjust="spacingAndGlyphs">ITS1</text>
<text x="284.80" y="417.00" font-size="6.9" fill="#222" stroke="#222" stroke-width="0.0" font-family="Liberation Sans" textLength="5.97" lengthAdjust="spacingAndGlyphs">5'-</text>
<text x="290.77" y="417.00" font-size="6.9" fill="#cc3f74" stroke="#cc3f74" stroke-width="0.0" font-family="Liberation Sans" textLength="74.49" lengthAdjust="spacingAndGlyphs">TCCTACCTCAAACCTCTTCC</text>
<text x="365.26" y="417.00" font-size="6.9" fill="#5aa6e0" stroke="#5aa6e0" stroke-width="0.0" font-family="Liberation Sans" textLength="62.22" lengthAdjust="spacingAndGlyphs">GCACCGATGCTCTCCG</text>
<text x="427.48" y="417.00" font-size="6.9" fill="#e9a246" stroke="#e9a246" stroke-width="0.0" font-family="Liberation Sans" textLength="81.36" lengthAdjust="spacingAndGlyphs">CGGCGGCCGTCGCGCGCCTG</text>
<text x="508.83" y="417.00" font-size="6.9" fill="#222" stroke="#222" stroke-width="0.0" font-family="Liberation Sans" textLength="5.97" lengthAdjust="spacingAndGlyphs">-3'</text>
<text x="283.07" y="427" font-size="5.3" fill="#e88a8a" font-family="Liberation Serif" text-anchor="middle">T</text>
<text x="287.21" y="427" font-size="5.3" fill="#7f9ad8" font-family="Liberation Serif" text-anchor="middle">C</text>
<text x="291.36" y="427" font-size="5.3" fill="#7f9ad8" font-family="Liberation Serif" text-anchor="middle">C</text>
<text x="295.50" y="427" font-size="5.3" fill="#e88a8a" font-family="Liberation Serif" text-anchor="middle">T</text>
<text x="299.64" y="427" font-size="5.3" fill="#9ad088" font-family="Liberation Serif" text-anchor="middle">A</text>
<text x="303.79" y="427" font-size="5.3" fill="#7f9ad8" font-family="Liberation Serif" text-anchor="middle">C</text>
<text x="307.93" y="427" font-size="5.3" fill="#7f9ad8" font-family="Liberation Serif" text-anchor="middle">C</text>
<text x="312.07" y="427" font-size="5.3" fill="#e88a8a" font-family="Liberation Serif" text-anchor="middle">T</text>
<text x="316.21" y="427" font-size="5.3" fill="#7f9ad8" font-family="Liberation Serif" text-anchor="middle">C</text>
<text x="320.36" y="427" font-size="5.3" fill="#9ad088" font-family="Liberation Serif" text-anchor="middle">A</text>
<text x="324.50" y="427" font-size="5.3" fill="#9ad088" font-family="Liberation Serif" text-anchor="middle">A</text>
<text x="328.64" y="427" font-size="5.3" fill="#9ad088" font-family="Liberation Serif" text-anchor="middle">A</text>
<text x="332.79" y="427" font-size="5.3" fill="#7f9ad8" font-family="Liberation Serif" text-anchor="middle">C</text>
<text x="336.93" y="427" font-size="5.3" fill="#7f9ad8" font-family="Liberation Serif" text-anchor="middle">C</text>
<text x="341.07" y="427" font-size="5.3" fill="#e88a8a" font-family="Liberation Serif" text-anchor="middle">T</text>
<text x="345.21" y="427" font-size="5.3" fill="#7f9ad8" font-family="Liberation Serif" text-anchor="middle">C</text>
<text x="349.36" y="427" font-size="5.3" fill="#e88a8a" font-family="Liberation Serif" text-anchor="middle">T</text>
<text x="353.50" y="427" font-size="5.3" fill="#e88a8a" font-family="Liberation Serif" text-anchor="middle">T</text>
<text x="357.64" y="427" font-size="5.3" fill="#7f9ad8" font-family="Liberation Serif" text-anchor="middle">C</text>
<text x="361.79" y="427" font-size="5.3" fill="#7f9ad8" font-family="Liberation Serif" text-anchor="middle">C</text>
<text x="365.93" y="427" font-size="5.3" fill="#808080" font-family="Liberation Serif" text-anchor="middle">G</text>
<text x="370.07" y="427" font-size="5.3" fill="#7f9ad8" font-family="Liberation Serif" text-anchor="middle">C</text>
<text x="374.21" y="427" font-size="5.3" fill="#9ad088" font-family="Liberation Serif" text-anchor="middle">A</text>
<text x="378.36" y="427" font-size="5.3" fill="#7f9ad8" font-family="Liberation Serif" text-anchor="middle">C</text>
<text x="382.50" y="427" font-size="5.3" fill="#7f9ad8" font-family="Liberation Serif" text-anchor="middle">C</text>
<text x="386.64" y="427" font-size="5.3" fill="#808080" font-family="Liberation Serif" text-anchor="middle">G</text>
<text x="390.79" y="427" font-size="5.3" fill="#9ad088" font-family="Liberation Serif" text-anchor="middle">A</text>
<text x="394.93" y="427" font-size="5.3" fill="#e88a8a" font-family="Liberation Serif" text-anchor="middle">T</text>
<text x="399.07" y="427" font-size="5.3" fill="#808080" font-family="Liberation Serif" text-anchor="middle">G</text>
<text x="403.21" y="427" font-size="5.3" fill="#7f9ad8" font-family="Liberation Serif" text-anchor="middle">C</text>
<text x="407.36" y="427" font-size="5.3" fill="#e88a8a" font-family="Liberation Serif" text-anchor="middle">T</text>
<text x="411.50" y="427" font-size="5.3" fill="#7f9ad8" font-family="Liberation Serif" text-anchor="middle">C</text>
<text x="415.64" y="427" font-size="5.3" fill="#e88a8a" font-family="Liberation Serif" text-anchor="middle">T</text>
<text x="419.79" y="427" font-size="5.3" fill="#7f9ad8" font-family="Liberation Serif" text-anchor="middle">C</text>
<text x="423.93" y="427" font-size="5.3" fill="#7f9ad8" font-family="Liberation Serif" text-anchor="middle">C</text>
<text x="428.07" y="427" font-size="5.3" fill="#808080" font-family="Liberation Serif" text-anchor="middle">G</text>
<text x="432.21" y="427" font-size="5.3" fill="#7f9ad8" font-family="Liberation Serif" text-anchor="middle">C</text>
<text x="436.36" y="427" font-size="5.3" fill="#808080" font-family="Liberation Serif" text-anchor="middle">G</text>
<text x="440.50" y="427" font-size="5.3" fill="#808080" font-family="Liberation Serif" text-anchor="middle">G</text>
<text x="444.64" y="427" font-size="5.3" fill="#7f9ad8" font-family="Liberation Serif" text-anchor="middle">C</text>
<text x="448.79" y="427" font-size="5.3" fill="#808080" font-family="Liberation Serif" text-anchor="middle">G</text>
<text x="452.93" y="427" font-size="5.3" fill="#808080" font-family="Liberation Serif" text-anchor="middle">G</text>
<text x="457.07" y="427" font-size="5.3" fill="#7f9ad8" font-family="Liberation Serif" text-anchor="middle">C</text>
<text x="461.21" y="427" font-size="5.3" fill="#7f9ad8" font-family="Liberation Serif" text-anchor="middle">C</text>
<text x="465.36" y="427" font-size="5.3" fill="#808080" font-family="Liberation Serif" text-anchor="middle">G</text>
<text x="469.50" y="427" font-size="5.3" fill="#e88a8a" font-family="Liberation Serif" text-anchor="middle">T</text>
<text x="473.64" y="427" font-size="5.3" fill="#7f9ad8" font-family="Liberation Serif" text-anchor="middle">C</text>
<text x="477.79" y="427" font-size="5.3" fill="#808080" font-family="Liberation Serif" text-anchor="middle">G</text>
<text x="481.93" y="427" font-size="5.3" fill="#7f9ad8" font-family="Liberation Serif" text-anchor="middle">C</text>
<text x="486.07" y="427" font-size="5.3" fill="#808080" font-family="Liberation Serif" text-anchor="middle">G</text>
<text x="490.21" y="427" font-size="5.3" fill="#7f9ad8" font-family="Liberation Serif" text-anchor="middle">C</text>
<text x="494.36" y="427" font-size="5.3" fill="#808080" font-family="Liberation Serif" text-anchor="middle">G</text>
<text x="498.50" y="427" font-size="5.3" fill="#7f9ad8" font-family="Liberation Serif" text-anchor="middle">C</text>
<text x="502.64" y="427" font-size="5.3" fill="#7f9ad8" font-family="Liberation Serif" text-anchor="middle">C</text>
<text x="506.79" y="427" font-size="5.3" fill="#e88a8a" font-family="Liberation Serif" text-anchor="middle">T</text>
<text x="510.93" y="427" font-size="5.3" fill="#808080" font-family="Liberation Serif" text-anchor="middle">G</text>
<path d="M276.87,458.20 L278.64,441.84 Q279.40,435.71 280.16,441.84 L281.93,458.20 M289.51,458.20 L291.28,445.93 Q292.04,441.33 292.80,445.93 L294.57,458.20 M306.36,458.20 L308.13,445.93 Q308.89,441.33 309.65,445.93 L311.42,458.20 M335.85,458.20 L337.62,445.93 Q338.38,441.33 339.14,445.93 L340.91,458.20 M344.28,458.20 L346.05,445.93 Q346.80,441.33 347.56,445.93 L349.33,458.20 M348.49,458.20 L350.26,443.89 Q351.02,438.52 351.77,443.89 L353.54,458.20 M390.62,458.20 L392.39,447.98 Q393.14,444.14 393.90,447.98 L395.67,458.20 M403.25,458.20 L405.02,443.89 Q405.78,438.52 406.54,443.89 L408.31,458.20 M411.68,458.20 L413.45,445.93 Q414.21,441.33 414.97,445.93 L416.73,458.20 M466.45,458.20 L468.21,454.11 Q468.97,452.58 469.73,454.11 L471.50,458.20 M504.36,458.20 L506.13,443.89 Q506.89,438.52 507.65,443.89 L509.41,458.20" fill="none" stroke="#dc3434" stroke-width="1.3" stroke-linejoin="round"/>
<path d="M281.09,458.20 L282.85,445.93 Q283.61,441.33 284.37,445.93 L286.14,458.20 M285.30,458.20 L287.07,445.93 Q287.83,441.33 288.58,445.93 L290.35,458.20 M297.94,458.20 L299.71,445.93 Q300.46,441.33 301.22,445.93 L302.99,458.20 M302.15,458.20 L303.92,445.93 Q304.68,441.33 305.43,445.93 L307.20,458.20 M310.57,458.20 L312.34,447.98 Q313.10,444.14 313.86,447.98 L315.63,458.20 M327.43,458.20 L329.19,447.98 Q329.95,444.14 330.71,447.98 L332.48,458.20 M331.64,458.20 L333.41,445.93 Q334.17,441.33 334.92,445.93 L336.69,458.20 M340.06,458.20 L341.83,445.93 Q342.59,441.33 343.35,445.93 L345.12,458.20 M352.70,458.20 L354.47,445.93 Q355.23,441.33 355.99,445.93 L357.76,458.20 M356.91,458.20 L358.68,447.98 Q359.44,444.14 360.20,447.98 L361.97,458.20 M365.34,458.20 L367.11,447.98 Q367.87,444.14 368.63,447.98 L370.39,458.20 M373.77,458.20 L375.53,447.98 Q376.29,444.14 377.05,447.98 L378.82,458.20 M377.98,458.20 L379.75,447.98 Q380.51,444.14 381.26,447.98 L383.03,458.20 M399.04,458.20 L400.81,450.02 Q401.57,446.96 402.33,450.02 L404.10,458.20 M407.47,458.20 L409.24,443.89 Q409.99,438.52 410.75,443.89 L412.52,458.20 M415.89,458.20 L417.66,445.93 Q418.42,441.33 419.18,445.93 L420.95,458.20 M420.11,458.20 L421.87,447.98 Q422.63,444.14 423.39,447.98 L425.16,458.20 M428.53,458.20 L430.30,450.02 Q431.06,446.96 431.82,450.02 L433.59,458.20 M441.17,458.20 L442.94,452.07 Q443.70,449.77 444.45,452.07 L446.22,458.20 M453.81,458.20 L455.58,454.11 Q456.33,452.58 457.09,454.11 L458.86,458.20 M458.02,458.20 L459.79,445.93 Q460.55,441.33 461.31,445.93 L463.07,458.20 M470.66,458.20 L472.43,450.02 Q473.19,446.96 473.94,450.02 L475.71,458.20 M479.08,458.20 L480.85,450.02 Q481.61,446.96 482.37,450.02 L484.14,458.20 M487.51,458.20 L489.28,447.98 Q490.04,444.14 490.79,447.98 L492.56,458.20 M495.93,458.20 L497.70,447.98 Q498.46,444.14 499.22,447.98 L500.99,458.20 M500.15,458.20 L501.92,445.93 Q502.67,441.33 503.43,445.93 L505.20,458.20" fill="none" stroke="#3a5cc6" stroke-width="1.3" stroke-linejoin="round"/>
<path d="M293.72,458.20 L295.49,443.89 Q296.25,438.52 297.01,443.89 L298.78,458.20 M314.79,458.20 L316.56,450.02 Q317.31,446.96 318.07,450.02 L319.84,458.20 M319.00,458.20 L320.77,450.02 Q321.53,446.96 322.29,450.02 L324.05,458.20 M323.21,458.20 L324.98,447.98 Q325.74,444.14 326.50,447.98 L328.27,458.20 M369.55,458.20 L371.32,450.02 Q372.08,446.96 372.84,450.02 L374.61,458.20 M386.40,458.20 L388.17,443.89 Q388.93,438.52 389.69,443.89 L391.46,458.20" fill="none" stroke="#6cbf4a" stroke-width="1.3" stroke-linejoin="round"/>
<path d="M361.13,458.20 L362.90,447.98 Q363.65,444.14 364.41,447.98 L366.18,458.20 M382.19,458.20 L383.96,447.98 Q384.72,444.14 385.48,447.98 L387.25,458.20 M394.83,458.20 L396.60,439.80 Q397.36,432.90 398.11,439.80 L399.88,458.20 M424.32,458.20 L426.09,447.98 Q426.85,444.14 427.60,447.98 L429.37,458.20 M432.74,458.20 L434.51,447.98 Q435.27,444.14 436.03,447.98 L437.80,458.20 M436.96,458.20 L438.73,447.98 Q439.48,444.14 440.24,447.98 L442.01,458.20 M445.38,458.20 L447.15,447.98 Q447.91,444.14 448.67,447.98 L450.44,458.20 M449.59,458.20 L451.36,447.98 Q452.12,444.14 452.88,447.98 L454.65,458.20 M462.23,458.20 L464.00,443.89 Q464.76,438.52 465.52,443.89 L467.29,458.20 M474.87,458.20 L476.64,450.02 Q477.40,446.96 478.16,450.02 L479.93,458.20 M483.30,458.20 L485.07,447.98 Q485.82,444.14 486.58,447.98 L488.35,458.20 M491.72,458.20 L493.49,447.98 Q494.25,444.14 495.01,447.98 L496.78,458.20 M508.57,458.20 L510.34,439.80 Q511.10,432.90 511.86,439.80 L513.63,458.20" fill="none" stroke="#1e1e1e" stroke-width="1.3" stroke-linejoin="round"/>
<line x1="277.5" y1="458.7" x2="514.5" y2="458.7" stroke="#222" stroke-width="1.2" />
<rect x="13.5" y="469.8" width="506.0" height="134.2" fill="none" stroke="#cfcfcf" stroke-width="1.2"/>
<text x="0.0" y="479.6" font-size="13.3" fill="#111" stroke="#111" stroke-width="0.15" font-family="Liberation Sans">E</text>
<text x="17.50" y="478.80" font-size="7.9" fill="#222" stroke="#222" stroke-width="0.0" font-family="Liberation Sans" textLength="77.50" lengthAdjust="spacingAndGlyphs">Validation of 5.8S clone</text>
<text x="32.00" y="501.30" font-size="6.8" fill="#222" stroke="#222" stroke-width="0.0" font-family="Liberation Sans" textLength="11.75" lengthAdjust="spacingAndGlyphs">47S</text>
<rect x="47" y="495.8" width="240.5" height="5.699999999999989" fill="#c4c4c4" stroke="#3a3a3a" stroke-width="0.9" rx="0.8"/>
<line x1="105.5" y1="495.8" x2="105.5" y2="501.5" stroke="#2a2a2a" stroke-width="1.0" />
<line x1="143.75" y1="495.8" x2="143.75" y2="501.5" stroke="#2a2a2a" stroke-width="1.0" />
<line x1="167" y1="495.8" x2="167" y2="501.5" stroke="#2a2a2a" stroke-width="1.0" />
<line x1="195.5" y1="495.8" x2="195.5" y2="501.5" stroke="#2a2a2a" stroke-width="1.0" />
<line x1="218.75" y1="495.8" x2="218.75" y2="501.5" stroke="#2a2a2a" stroke-width="1.0" />
<line x1="265" y1="495.8" x2="265" y2="501.5" stroke="#2a2a2a" stroke-width="1.0" />
<text x="69.25" y="493.80" font-size="7.0" fill="#222" stroke="#222" stroke-width="0.0" font-family="Liberation Sans" textLength="18.75" lengthAdjust="spacingAndGlyphs">5'-ETS</text>
<text x="120.00" y="493.80" font-size="7.0" fill="#222" stroke="#222" stroke-width="0.0" font-family="Liberation Sans" textLength="10.50" lengthAdjust="spacingAndGlyphs">18S</text>
<text x="152.00" y="493.80" font-size="7.0" fill="#222" stroke="#222" stroke-width="0.0" font-family="Liberation Sans" textLength="10.50" lengthAdjust="spacingAndGlyphs">ITS1</text>
<text x="175.00" y="493.80" font-size="7.0" fill="#222" stroke="#222" stroke-width="0.0" font-family="Liberation Sans" textLength="12.00" lengthAdjust="spacingAndGlyphs">5.8S</text>
<text x="201.25" y="493.80" font-size="7.0" fill="#222" stroke="#222" stroke-width="0.0" font-family="Liberation Sans" textLength="13.25" lengthAdjust="spacingAndGlyphs">ITS2</text>
<text x="234.50" y="493.80" font-size="7.0" fill="#222" stroke="#222" stroke-width="0.0" font-family="Liberation Sans" textLength="11.00" lengthAdjust="spacingAndGlyphs">28S</text>
<text x="268.00" y="493.80" font-size="7.0" fill="#222" stroke="#222" stroke-width="0.0" font-family="Liberation Sans" textLength="18.25" lengthAdjust="spacingAndGlyphs">3'-ETS</text>
<g><circle cx="167.5" cy="486.0" r="1.45" fill="none" stroke="#222" stroke-width="0.75"/><circle cx="164.3" cy="492.3" r="1.45" fill="none" stroke="#222" stroke-width="0.75"/><path d="M168.2,487.3 L170.5,492.5" stroke="#111" stroke-width="0.8"/><path d="M165.70000000000002,492.40000000000003 L170.5,492.5" stroke="#111" stroke-width="0.8"/><path d="M169.4,492.0 L171.6,493.0 L172.7,496.9 Z" fill="#111" stroke="#111" stroke-width="0.9"/><path d="M170.1,491.4 L170.9,493.6 L178.9,494.6 Z" fill="#111" stroke="#111" stroke-width="0.9"/></g>
<line x1="173" y1="501.8" x2="74.6" y2="521.7" stroke="#222" stroke-width="1.4" stroke-dasharray="3.6,2.6"/>
<line x1="180" y1="501.8" x2="249.8" y2="518" stroke="#222" stroke-width="1.4" stroke-dasharray="3.6,2.6"/>
<circle cx="82" cy="522.4" r="0.6" fill="#222"/>
<line x1="86" y1="522.4" x2="89.5" y2="522.4" stroke="#222" stroke-width="1.3" />
<line x1="93" y1="522.4" x2="96" y2="522.4" stroke="#222" stroke-width="1.3" />
<text x="97.10" y="523.70" font-size="6.5" fill="#222" stroke="#222" stroke-width="0.0" font-family="Liberation Sans" textLength="12.10" lengthAdjust="spacingAndGlyphs">5.8S</text>
<line x1="111" y1="522.2" x2="114" y2="522.2" stroke="#222" stroke-width="1.3" />
<text x="116.10" y="523.70" font-size="6.6" fill="#333" stroke="#333" stroke-width="0.0" font-family="Liberation Sans" textLength="82.18" lengthAdjust="spacingAndGlyphs">CGACACTTCGAACGCACTTG</text>
<text x="198.28" y="523.70" font-size="6.6" fill="#e03030" stroke="#e03030" stroke-width="0.0" font-family="Liberation Sans" textLength="13.42" lengthAdjust="spacingAndGlyphs">CGG</text>
<line x1="215" y1="521.8" x2="218" y2="521.8" stroke="#222" stroke-width="1.3" />
<line x1="222" y1="521.8" x2="224" y2="521.8" stroke="#222" stroke-width="1.3" />
<text x="223.80" y="523.70" font-size="6.5" fill="#222" stroke="#222" stroke-width="0.0" font-family="Liberation Sans" textLength="12.20" lengthAdjust="spacingAndGlyphs">5.8S</text>
<line x1="237" y1="521.8" x2="240" y2="521.8" stroke="#222" stroke-width="1.3" />
<line x1="243" y1="521.8" x2="246" y2="521.8" stroke="#222" stroke-width="1.3" />
<circle cx="250" cy="521.8" r="0.6" fill="#222"/>
<text x="154.50" y="516.80" font-size="7.0" fill="#e03030" stroke="#e03030" stroke-width="0.0" font-family="Liberation Sans" textLength="19.25" lengthAdjust="spacingAndGlyphs">sgRNA</text>
<g><circle cx="181.5" cy="507.5" r="1.45" fill="none" stroke="#222" stroke-width="0.75"/><circle cx="178.3" cy="513.8" r="1.45" fill="none" stroke="#222" stroke-width="0.75"/><path d="M182.2,508.8 L184.5,514" stroke="#111" stroke-width="0.8"/><path d="M179.70000000000002,513.9 L184.5,514" stroke="#111" stroke-width="0.8"/><path d="M183.4,513.5 L185.6,514.5 L186.7,518.4 Z" fill="#111" stroke="#111" stroke-width="0.9"/><path d="M184.1,512.9 L184.9,515.1 L192.9,516.1 Z" fill="#111" stroke="#111" stroke-width="0.9"/></g>
<line x1="168.75" y1="527.5" x2="168.75" y2="540.75" stroke="#222" stroke-width="0.9" />
<path d="M166.75,539.75 L170.75,539.75 L168.75,543.75 Z" fill="#222"/>
<text x="26.25" y="565.60" font-size="6.8" fill="#222" stroke="#222" stroke-width="0.0" font-family="Liberation Sans" textLength="10.75" lengthAdjust="spacingAndGlyphs">47S</text>
<rect x="40" y="559.8" width="133" height="5.800000000000068" fill="#c4c4c4" stroke="#3a3a3a" stroke-width="0.9"/>
<rect x="226.25" y="559.8" width="108.25" height="5.800000000000068" fill="#c4c4c4" stroke="#3a3a3a" stroke-width="0.9" rx="0.8"/>
<rect x="173" y="559.8" width="53.25" height="5.800000000000068" fill="#f6f4f8"/>
<rect x="173.00" y="559.8" width="3.69" height="5.800000000000068" fill="#b2828a"/>
<rect x="179.19" y="559.8" width="3.69" height="5.800000000000068" fill="#b2828a"/>
<rect x="185.39" y="559.8" width="3.69" height="5.800000000000068" fill="#b2828a"/>
<rect x="191.58" y="559.8" width="3.69" height="5.800000000000068" fill="#b2828a"/>
<rect x="197.78" y="559.8" width="3.69" height="5.800000000000068" fill="#b2828a"/>
<rect x="203.97" y="559.8" width="3.69" height="5.800000000000068" fill="#b2828a"/>
<rect x="210.17" y="559.8" width="3.69" height="5.800000000000068" fill="#b2828a"/>
<rect x="216.36" y="559.8" width="3.69" height="5.800000000000068" fill="#b2828a"/>
<rect x="222.56" y="559.8" width="3.69" height="5.800000000000068" fill="#b2828a"/>
<line x1="173" y1="560.05" x2="226.25" y2="560.05" stroke="#a8a8b0" stroke-width="0.5"/>
<line x1="173" y1="565.35" x2="226.25" y2="565.35" stroke="#a8a8b0" stroke-width="0.5"/>
<line x1="98.75" y1="559.8" x2="98.75" y2="565.6" stroke="#2a2a2a" stroke-width="1.0" />
<line x1="136.25" y1="559.8" x2="136.25" y2="565.6" stroke="#2a2a2a" stroke-width="1.0" />
<line x1="160" y1="559.8" x2="160" y2="565.6" stroke="#2a2a2a" stroke-width="1.0" />
<line x1="242.5" y1="559.8" x2="242.5" y2="565.6" stroke="#2a2a2a" stroke-width="1.0" />
<line x1="265.5" y1="559.8" x2="265.5" y2="565.6" stroke="#2a2a2a" stroke-width="1.0" />
<line x1="312.5" y1="559.8" x2="312.5" y2="565.6" stroke="#2a2a2a" stroke-width="1.0" />
<text x="62.50" y="558.00" font-size="7.0" fill="#222" stroke="#222" stroke-width="0.0" font-family="Liberation Sans" textLength="18.75" lengthAdjust="spacingAndGlyphs">5'-ETS</text>
<text x="113.00" y="558.00" font-size="7.0" fill="#222" stroke="#222" stroke-width="0.0" font-family="Liberation Sans" textLength="10.75" lengthAdjust="spacingAndGlyphs">18S</text>
<text x="137.50" y="558.00" font-size="7.0" fill="#222" stroke="#222" stroke-width="0.0" font-family="Liberation Sans" textLength="13.00" lengthAdjust="spacingAndGlyphs">ITS1</text>
<text x="162.00" y="558.00" font-size="7.0" fill="#222" stroke="#222" stroke-width="0.0" font-family="Liberation Sans" textLength="12.50" lengthAdjust="spacingAndGlyphs">5.8S</text>
<text x="182.50" y="558.00" font-size="7.0" fill="#222" stroke="#222" stroke-width="0.0" font-family="Liberation Sans" textLength="30.00" lengthAdjust="spacingAndGlyphs">17XMS2V5</text>
<text x="247.50" y="558.00" font-size="7.0" fill="#222" stroke="#222" stroke-width="0.0" font-family="Liberation Sans" textLength="13.75" lengthAdjust="spacingAndGlyphs">ITS2</text>
<text x="281.25" y="558.00" font-size="7.0" fill="#222" stroke="#222" stroke-width="0.0" font-family="Liberation Sans" textLength="11.25" lengthAdjust="spacingAndGlyphs">28S</text>
<text x="315.00" y="558.00" font-size="7.0" fill="#222" stroke="#222" stroke-width="0.0" font-family="Liberation Sans" textLength="18.75" lengthAdjust="spacingAndGlyphs">3'-ETS</text>
<text x="87.00" y="576.30" font-size="8.4" fill="#222" stroke="#222" stroke-width="0.0" font-family="Liberation Sans" textLength="49.25" lengthAdjust="spacingAndGlyphs">Primer design</text>
<text x="259.50" y="576.30" font-size="8.2" fill="#222" stroke="#222" stroke-width="0.0" font-family="Liberation Sans" textLength="93.00" lengthAdjust="spacingAndGlyphs">knock-in positive / negative</text>
<text x="141.25" y="582.20" font-size="8" fill="#222" stroke="#222" stroke-width="0.0" font-family="Liberation Sans" textLength="8.75" lengthAdjust="spacingAndGlyphs">F4</text>
<line x1="153.75" y1="580" x2="160" y2="580" stroke="#b81c1c" stroke-width="2.0" />
<line x1="160" y1="580" x2="200" y2="580" stroke="#111" stroke-width="1.8" />
<line x1="200" y1="580" x2="205" y2="580" stroke="#b81c1c" stroke-width="2.0" />
<text x="207.00" y="582.20" font-size="8" fill="#222" stroke="#222" stroke-width="0.0" font-family="Liberation Sans" textLength="9.25" lengthAdjust="spacingAndGlyphs">R1</text>
<text x="191.25" y="592.60" font-size="8" fill="#222" stroke="#222" stroke-width="0.0" font-family="Liberation Sans" textLength="8.75" lengthAdjust="spacingAndGlyphs">F3</text>
<line x1="201.25" y1="590.5" x2="206.25" y2="590.5" stroke="#b81c1c" stroke-width="2.0" />
<line x1="206.25" y1="590.5" x2="267" y2="590.5" stroke="#111" stroke-width="1.8" />
<line x1="267" y1="590.5" x2="273" y2="590.5" stroke="#b81c1c" stroke-width="2.0" />
<text x="277.50" y="592.60" font-size="8" fill="#222" stroke="#222" stroke-width="0.0" font-family="Liberation Sans" textLength="9.50" lengthAdjust="spacingAndGlyphs">R3</text>
<text x="297.00" y="587.00" font-size="6.8" fill="#222" stroke="#222" stroke-width="0.0" font-family="Liberation Sans" textLength="39.25" lengthAdjust="spacingAndGlyphs">991 bp / 0 bp</text>
<text x="297.00" y="597.00" font-size="6.8" fill="#222" stroke="#222" stroke-width="0.0" font-family="Liberation Sans" textLength="43.00" lengthAdjust="spacingAndGlyphs">1787 bp / 0 bp</text>
<text x="351.50" y="487.00" font-size="6.8" fill="#222" stroke="#222" stroke-width="0.0" font-family="Liberation Sans" textLength="19.50" lengthAdjust="spacingAndGlyphs">1 . WT</text>
<text x="380.30" y="487.00" font-size="6.8" fill="#222" stroke="#222" stroke-width="0.0" font-family="Liberation Sans" textLength="41.50" lengthAdjust="spacingAndGlyphs">2 . 5.8S clone</text>
<text x="427.40" y="487.00" font-size="6.8" fill="#222" stroke="#222" stroke-width="0.0" font-family="Liberation Sans" textLength="19.60" lengthAdjust="spacingAndGlyphs">3 . WT</text>
<text x="452.80" y="487.00" font-size="6.8" fill="#222" stroke="#222" stroke-width="0.0" font-family="Liberation Sans" textLength="40.90" lengthAdjust="spacingAndGlyphs">4 . 5.8S clone</text>
<text x="393.40" y="500.40" font-size="6.8" fill="#222" stroke="#222" stroke-width="0.0" font-family="Liberation Sans" textLength="20.90" lengthAdjust="spacingAndGlyphs">F4+R1</text>
<text x="417.50" y="500.40" font-size="6.8" fill="#222" stroke="#222" stroke-width="0.0" font-family="Liberation Sans" textLength="22.30" lengthAdjust="spacingAndGlyphs">F3+R3</text>
<line x1="393" y1="502.7" x2="415.8" y2="502.7" stroke="#333" stroke-width="1.1" />
<line x1="418" y1="502.7" x2="440.8" y2="502.7" stroke="#333" stroke-width="1.1" />
<rect x="392.40" y="504.60" width="60.60" height="91.20" rx="0" fill="#9d9ea2" opacity="1"/>
<rect x="392.40" y="511.50" width="60.60" height="3.00" rx="0" fill="#8e8e8e" opacity="0.5" filter="url(#blur)"/>
<rect x="394.90" y="515.00" width="8.00" height="1.20" rx="0" fill="#b0b0b4" opacity="0.4" filter="url(#blur)"/>
<rect x="407.20" y="515.00" width="8.00" height="1.20" rx="0" fill="#b0b0b4" opacity="0.4" filter="url(#blur)"/>
<rect x="418.40" y="515.00" width="8.00" height="1.20" rx="0" fill="#b0b0b4" opacity="0.4" filter="url(#blur)"/>
<rect x="428.70" y="515.00" width="8.00" height="1.20" rx="0" fill="#b0b0b4" opacity="0.4" filter="url(#blur)"/>
<rect x="442.80" y="515.00" width="8.00" height="1.20" rx="0" fill="#b0b0b4" opacity="0.4" filter="url(#blur)"/>
<rect x="406.90" y="561.20" width="10.40" height="3.00" rx="1.2" fill="#000" opacity="1" filter="url(#blur)"/>
<rect x="430.10" y="550.30" width="11.30" height="3.40" rx="1.4" fill="#000" opacity="1" filter="url(#blur)"/>
<rect x="430.10" y="557.00" width="11.30" height="1.40" rx="0" fill="#7a7a7a" opacity="0.5" filter="url(#blur)"/>
<rect x="443.20" y="534.05" width="8.70" height="1.50" rx="0" fill="#3a3a3a" opacity="0.22" filter="url(#blur)"/>
<rect x="443.20" y="537.25" width="8.70" height="1.50" rx="0" fill="#3a3a3a" opacity="0.22" filter="url(#blur)"/>
<rect x="443.20" y="541.35" width="8.70" height="1.50" rx="0" fill="#3a3a3a" opacity="0.22" filter="url(#blur)"/>
<rect x="443.20" y="545.95" width="8.70" height="1.50" rx="0" fill="#3a3a3a" opacity="0.28" filter="url(#blur)"/>
<rect x="443.20" y="550.75" width="8.70" height="1.50" rx="0" fill="#3a3a3a" opacity="0.28" filter="url(#blur)"/>
<rect x="443.20" y="555.85" width="8.70" height="1.50" rx="0" fill="#3a3a3a" opacity="0.5" filter="url(#blur)"/>
<rect x="443.20" y="561.95" width="8.70" height="1.50" rx="0" fill="#3a3a3a" opacity="0.35" filter="url(#blur)"/>
<rect x="443.20" y="566.75" width="8.70" height="1.50" rx="0" fill="#3a3a3a" opacity="0.42" filter="url(#blur)"/>
<rect x="443.20" y="573.55" width="8.70" height="1.50" rx="0" fill="#3a3a3a" opacity="0.95" filter="url(#blur)"/>
<rect x="443.20" y="583.15" width="8.70" height="1.50" rx="0" fill="#3a3a3a" opacity="0.35" filter="url(#blur)"/>
<rect x="443.20" y="590.95" width="8.70" height="1.50" rx="0" fill="#3a3a3a" opacity="0.35" filter="url(#blur)"/>
<text x="398.9" y="513.8" font-size="6" fill="#222" font-family="Liberation Sans" text-anchor="middle">1</text>
<text x="411.2" y="513.8" font-size="6" fill="#222" font-family="Liberation Sans" text-anchor="middle">2</text>
<text x="422.4" y="513.8" font-size="6" fill="#222" font-family="Liberation Sans" text-anchor="middle">3</text>
<text x="432.7" y="513.8" font-size="6" fill="#222" font-family="Liberation Sans" text-anchor="middle">4</text>
<text x="446.8" y="513.8" font-size="6" fill="#222" font-family="Liberation Sans" text-anchor="middle">M</text>
<text x="461" y="531.5" font-size="5" fill="#222" font-family="Liberation Sans">Kb</text>
<line x1="455" y1="536.3" x2="458.3" y2="536.3" stroke="#333" stroke-width="0.7" />
<text x="459.90" y="537.90" font-size="4.8" fill="#333" font-family="Liberation Sans">8.00</text>
<line x1="455" y1="546" x2="458.3" y2="546" stroke="#333" stroke-width="0.7" />
<text x="459.90" y="547.60" font-size="4.8" fill="#333" font-family="Liberation Sans">3.00</text>
<line x1="455" y1="556.2" x2="458.3" y2="556.2" stroke="#333" stroke-width="0.7" />
<text x="459.90" y="557.80" font-size="4.8" fill="#333" font-family="Liberation Sans">1.50</text>
<line x1="455" y1="562.7" x2="458.3" y2="562.7" stroke="#333" stroke-width="0.7" />
<text x="459.90" y="564.30" font-size="4.8" fill="#333" font-family="Liberation Sans">1.00</text>
<line x1="455" y1="567.7" x2="458.3" y2="567.7" stroke="#333" stroke-width="0.7" />
<text x="459.90" y="569.30" font-size="4.8" fill="#333" font-family="Liberation Sans">0.75</text>
<line x1="455" y1="573.8" x2="458.3" y2="573.8" stroke="#333" stroke-width="0.7" />
<text x="459.90" y="575.40" font-size="4.8" fill="#333" font-family="Liberation Sans">0.50</text>
<line x1="455" y1="583.8" x2="458.3" y2="583.8" stroke="#333" stroke-width="0.7" />
<text x="459.90" y="585.40" font-size="4.8" fill="#333" font-family="Liberation Sans">0.25</text>
<line x1="455" y1="592.1" x2="458.3" y2="592.1" stroke="#333" stroke-width="0.7" />
<text x="459.90" y="593.70" font-size="4.8" fill="#333" font-family="Liberation Sans">0.10</text>
<rect x="13.5" y="611.3" width="506.0" height="76.70000000000005" fill="none" stroke="#cfcfcf" stroke-width="1.2"/>
<text x="0.0" y="619.6" font-size="13.3" fill="#111" stroke="#111" stroke-width="0.15" font-family="Liberation Sans">F</text>
<text x="19.50" y="621.80" font-size="8.8" fill="#222" stroke="#222" stroke-width="0.0" font-family="Liberation Sans" textLength="121.30" lengthAdjust="spacingAndGlyphs">5.8S: 5'HA-MS2 junction sequencing</text>
<line x1="30" y1="637.2" x2="111.25" y2="637.2" stroke="#f0c286" stroke-width="1.4" />
<line x1="113.75" y1="637.2" x2="137.5" y2="637.2" stroke="#9ccaf0" stroke-width="1.4" />
<line x1="139.4" y1="637.2" x2="222.2" y2="637.2" stroke="#e48cb0" stroke-width="1.4" />
<text x="63.75" y="635.30" font-size="6.6" fill="#222" stroke="#222" stroke-width="0.0" font-family="Liberation Sans" textLength="11.75" lengthAdjust="spacingAndGlyphs">5.8S</text>
<text x="117.50" y="635.30" font-size="6.6" fill="#222" stroke="#222" stroke-width="0.0" font-family="Liberation Sans" textLength="12.50" lengthAdjust="spacingAndGlyphs">sg85</text>
<text x="162.90" y="635.30" font-size="6.6" fill="#222" stroke="#222" stroke-width="0.0" font-family="Liberation Sans" textLength="29.10" lengthAdjust="spacingAndGlyphs">17XMS2V5</text>
<text x="20.00" y="646.10" font-size="7.2" fill="#222" stroke="#222" stroke-width="0.0" font-family="Liberation Sans" textLength="6.25" lengthAdjust="spacingAndGlyphs">5'-</text>
<text x="32.50" y="646.10" font-size="7.8" fill="#e9a246" stroke="#e9a246" stroke-width="0.0" font-family="Liberation Sans" textLength="81.08" lengthAdjust="spacingAndGlyphs">TCATCGACACTTCGAACGCA</text>
<text x="113.58" y="646.10" font-size="7.8" fill="#5aa6e0" stroke="#5aa6e0" stroke-width="0.0" font-family="Liberation Sans" textLength="26.20" lengthAdjust="spacingAndGlyphs">AGGAGG</text>
<text x="139.78" y="646.10" font-size="7.8" fill="#cc3f74" stroke="#cc3f74" stroke-width="0.0" font-family="Liberation Sans" textLength="83.06" lengthAdjust="spacingAndGlyphs">GAAGGTGACAACCGGTAACC</text>
<text x="222.84" y="646.10" font-size="7.8" fill="#222" stroke="#222" stroke-width="0.0" font-family="Liberation Sans" textLength="6.36" lengthAdjust="spacingAndGlyphs">-3'</text>
<text x="30.85" y="656" font-size="5.3" fill="#e88a8a" font-family="Liberation Serif" text-anchor="middle">T</text>
<text x="35.04" y="656" font-size="5.3" fill="#7f9ad8" font-family="Liberation Serif" text-anchor="middle">C</text>
<text x="39.23" y="656" font-size="5.3" fill="#9ad088" font-family="Liberation Serif" text-anchor="middle">A</text>
<text x="43.42" y="656" font-size="5.3" fill="#e88a8a" font-family="Liberation Serif" text-anchor="middle">T</text>
<text x="47.62" y="656" font-size="5.3" fill="#7f9ad8" font-family="Liberation Serif" text-anchor="middle">C</text>
<text x="51.81" y="656" font-size="5.3" fill="#808080" font-family="Liberation Serif" text-anchor="middle">G</text>
<text x="56.00" y="656" font-size="5.3" fill="#9ad088" font-family="Liberation Serif" text-anchor="middle">A</text>
<text x="60.19" y="656" font-size="5.3" fill="#7f9ad8" font-family="Liberation Serif" text-anchor="middle">C</text>
<text x="64.39" y="656" font-size="5.3" fill="#9ad088" font-family="Liberation Serif" text-anchor="middle">A</text>
<text x="68.58" y="656" font-size="5.3" fill="#7f9ad8" font-family="Liberation Serif" text-anchor="middle">C</text>
<text x="72.77" y="656" font-size="5.3" fill="#e88a8a" font-family="Liberation Serif" text-anchor="middle">T</text>
<text x="76.96" y="656" font-size="5.3" fill="#e88a8a" font-family="Liberation Serif" text-anchor="middle">T</text>
<text x="81.15" y="656" font-size="5.3" fill="#7f9ad8" font-family="Liberation Serif" text-anchor="middle">C</text>
<text x="85.35" y="656" font-size="5.3" fill="#808080" font-family="Liberation Serif" text-anchor="middle">G</text>
<text x="89.54" y="656" font-size="5.3" fill="#9ad088" font-family="Liberation Serif" text-anchor="middle">A</text>
<text x="93.73" y="656" font-size="5.3" fill="#9ad088" font-family="Liberation Serif" text-anchor="middle">A</text>
<text x="97.92" y="656" font-size="5.3" fill="#7f9ad8" font-family="Liberation Serif" text-anchor="middle">C</text>
<text x="102.12" y="656" font-size="5.3" fill="#808080" font-family="Liberation Serif" text-anchor="middle">G</text>
<text x="106.31" y="656" font-size="5.3" fill="#7f9ad8" font-family="Liberation Serif" text-anchor="middle">C</text>
<text x="110.50" y="656" font-size="5.3" fill="#9ad088" font-family="Liberation Serif" text-anchor="middle">A</text>
<text x="114.69" y="656" font-size="5.3" fill="#9ad088" font-family="Liberation Serif" text-anchor="middle">A</text>
<text x="118.89" y="656" font-size="5.3" fill="#808080" font-family="Liberation Serif" text-anchor="middle">G</text>
<text x="123.08" y="656" font-size="5.3" fill="#808080" font-family="Liberation Serif" text-anchor="middle">G</text>
<text x="127.27" y="656" font-size="5.3" fill="#9ad088" font-family="Liberation Serif" text-anchor="middle">A</text>
<text x="131.46" y="656" font-size="5.3" fill="#808080" font-family="Liberation Serif" text-anchor="middle">G</text>
<text x="135.66" y="656" font-size="5.3" fill="#808080" font-family="Liberation Serif" text-anchor="middle">G</text>
<text x="139.85" y="656" font-size="5.3" fill="#808080" font-family="Liberation Serif" text-anchor="middle">G</text>
<text x="144.04" y="656" font-size="5.3" fill="#9ad088" font-family="Liberation Serif" text-anchor="middle">A</text>
<text x="148.23" y="656" font-size="5.3" fill="#9ad088" font-family="Liberation Serif" text-anchor="middle">A</text>
<text x="152.43" y="656" font-size="5.3" fill="#808080" font-family="Liberation Serif" text-anchor="middle">G</text>
<text x="156.62" y="656" font-size="5.3" fill="#808080" font-family="Liberation Serif" text-anchor="middle">G</text>
<text x="160.81" y="656" font-size="5.3" fill="#e88a8a" font-family="Liberation Serif" text-anchor="middle">T</text>
<text x="165.00" y="656" font-size="5.3" fill="#808080" font-family="Liberation Serif" text-anchor="middle">G</text>
<text x="169.20" y="656" font-size="5.3" fill="#9ad088" font-family="Liberation Serif" text-anchor="middle">A</text>
<text x="173.39" y="656" font-size="5.3" fill="#7f9ad8" font-family="Liberation Serif" text-anchor="middle">C</text>
<text x="177.58" y="656" font-size="5.3" fill="#9ad088" font-family="Liberation Serif" text-anchor="middle">A</text>
<text x="181.77" y="656" font-size="5.3" fill="#9ad088" font-family="Liberation Serif" text-anchor="middle">A</text>
<text x="185.96" y="656" font-size="5.3" fill="#7f9ad8" font-family="Liberation Serif" text-anchor="middle">C</text>
<text x="190.16" y="656" font-size="5.3" fill="#7f9ad8" font-family="Liberation Serif" text-anchor="middle">C</text>
<text x="194.35" y="656" font-size="5.3" fill="#808080" font-family="Liberation Serif" text-anchor="middle">G</text>
<text x="198.54" y="656" font-size="5.3" fill="#808080" font-family="Liberation Serif" text-anchor="middle">G</text>
<text x="202.73" y="656" font-size="5.3" fill="#e88a8a" font-family="Liberation Serif" text-anchor="middle">T</text>
<text x="206.93" y="656" font-size="5.3" fill="#9ad088" font-family="Liberation Serif" text-anchor="middle">A</text>
<text x="211.12" y="656" font-size="5.3" fill="#9ad088" font-family="Liberation Serif" text-anchor="middle">A</text>
<text x="215.31" y="656" font-size="5.3" fill="#7f9ad8" font-family="Liberation Serif" text-anchor="middle">C</text>
<text x="219.50" y="656" font-size="5.3" fill="#7f9ad8" font-family="Liberation Serif" text-anchor="middle">C</text>
<path d="M27.75,680.20 L29.53,668.89 Q30.30,664.65 31.07,668.89 L32.85,680.20 M40.50,680.20 L42.29,668.89 Q43.05,664.65 43.82,668.89 L45.60,680.20 M70.26,680.20 L72.05,673.13 Q72.81,670.48 73.58,673.13 L75.36,680.20 M74.51,680.20 L76.30,670.31 Q77.06,666.60 77.83,670.31 L79.61,680.20 M159.53,680.20 L161.32,674.55 Q162.08,672.43 162.85,674.55 L164.64,680.20 M202.04,680.20 L203.83,673.13 Q204.60,670.48 205.36,673.13 L207.15,680.20" fill="none" stroke="#dc3434" stroke-width="1.3" stroke-linejoin="round"/>
<path d="M32.00,680.20 L33.79,668.89 Q34.55,664.65 35.32,668.89 L37.10,680.20 M44.75,680.20 L46.54,675.96 Q47.30,674.37 48.07,675.96 L49.86,680.20 M57.51,680.20 L59.29,667.48 Q60.06,662.71 60.82,667.48 L62.61,680.20 M66.01,680.20 L67.79,674.55 Q68.56,672.43 69.33,674.55 L71.11,680.20 M78.76,680.20 L80.55,675.96 Q81.31,674.37 82.08,675.96 L83.86,680.20 M95.77,680.20 L97.55,673.13 Q98.32,670.48 99.08,673.13 L100.87,680.20 M104.27,680.20 L106.05,668.89 Q106.82,664.65 107.59,668.89 L109.37,680.20 M172.29,680.20 L174.07,667.48 Q174.84,662.71 175.60,667.48 L177.39,680.20 M185.04,680.20 L186.83,673.13 Q187.59,670.48 188.36,673.13 L190.14,680.20 M189.29,680.20 L191.08,670.31 Q191.84,666.60 192.61,670.31 L194.39,680.20 M214.80,680.20 L216.58,668.89 Q217.35,664.65 218.11,668.89 L219.90,680.20 M219.05,680.20 L220.83,675.96 Q221.60,674.37 222.37,675.96 L224.15,680.20" fill="none" stroke="#3a5cc6" stroke-width="1.3" stroke-linejoin="round"/>
<path d="M36.25,680.20 L38.04,671.72 Q38.80,668.54 39.57,671.72 L41.35,680.20 M53.26,680.20 L55.04,674.55 Q55.81,672.43 56.57,674.55 L58.36,680.20 M61.76,680.20 L63.54,674.55 Q64.31,672.43 65.07,674.55 L66.86,680.20 M87.26,680.20 L89.05,673.13 Q89.82,670.48 90.58,673.13 L92.37,680.20 M91.52,680.20 L93.30,674.55 Q94.07,672.43 94.83,674.55 L96.62,680.20 M108.52,680.20 L110.31,668.89 Q111.07,664.65 111.84,668.89 L113.62,680.20 M112.77,680.20 L114.56,668.89 Q115.32,664.65 116.09,668.89 L117.87,680.20 M125.52,680.20 L127.31,668.89 Q128.08,664.65 128.84,668.89 L130.63,680.20 M142.53,680.20 L144.31,668.89 Q145.08,664.65 145.85,668.89 L147.63,680.20 M146.78,680.20 L148.57,668.89 Q149.33,664.65 150.10,668.89 L151.88,680.20 M168.04,680.20 L169.82,674.55 Q170.59,672.43 171.35,674.55 L173.14,680.20 M176.54,680.20 L178.32,671.72 Q179.09,668.54 179.85,671.72 L181.64,680.20 M180.79,680.20 L182.57,675.96 Q183.34,674.37 184.11,675.96 L185.89,680.20 M206.30,680.20 L208.08,671.72 Q208.85,668.54 209.61,671.72 L211.40,680.20 M210.55,680.20 L212.33,674.55 Q213.10,672.43 213.86,674.55 L215.65,680.20" fill="none" stroke="#6cbf4a" stroke-width="1.3" stroke-linejoin="round"/>
<path d="M49.00,680.20 L50.79,673.13 Q51.56,670.48 52.32,673.13 L54.11,680.20 M83.01,680.20 L84.80,671.72 Q85.56,668.54 86.33,671.72 L88.12,680.20 M100.02,680.20 L101.80,673.13 Q102.57,670.48 103.33,673.13 L105.12,680.20 M117.02,680.20 L118.81,671.72 Q119.57,668.54 120.34,671.72 L122.12,680.20 M121.27,680.20 L123.06,671.72 Q123.82,668.54 124.59,671.72 L126.38,680.20 M129.78,680.20 L131.56,670.31 Q132.33,666.60 133.09,670.31 L134.88,680.20 M134.03,680.20 L135.81,670.31 Q136.58,666.60 137.34,670.31 L139.13,680.20 M138.28,680.20 L140.06,671.72 Q140.83,668.54 141.59,671.72 L143.38,680.20 M151.03,680.20 L152.82,670.31 Q153.58,666.60 154.35,670.31 L156.13,680.20 M155.28,680.20 L157.07,671.72 Q157.83,668.54 158.60,671.72 L160.38,680.20 M163.78,680.20 L165.57,673.13 Q166.34,670.48 167.10,673.13 L168.89,680.20 M193.54,680.20 L195.33,671.72 Q196.09,668.54 196.86,671.72 L198.64,680.20 M197.79,680.20 L199.58,671.72 Q200.34,668.54 201.11,671.72 L202.90,680.20" fill="none" stroke="#1e1e1e" stroke-width="1.3" stroke-linejoin="round"/>
<line x1="27" y1="680.7" x2="223" y2="680.7" stroke="#222" stroke-width="1.2" />
<text x="287.00" y="621.80" font-size="8.8" fill="#222" stroke="#222" stroke-width="0.0" font-family="Liberation Sans" textLength="122.00" lengthAdjust="spacingAndGlyphs">5.8S: MS2-3'HA junction sequencing</text>
<line x1="273" y1="636" x2="351.25" y2="636" stroke="#e48cb0" stroke-width="1.4" />
<line x1="352" y1="636" x2="417.7" y2="636" stroke="#9ccaf0" stroke-width="1.4" />
<line x1="418.3" y1="636" x2="506.1" y2="636" stroke="#f0c286" stroke-width="1.4" />
<text x="299.50" y="635.00" font-size="6.6" fill="#222" stroke="#222" stroke-width="0.0" font-family="Liberation Sans" textLength="27.50" lengthAdjust="spacingAndGlyphs">17XMS2V5</text>
<text x="381.30" y="635.00" font-size="6.6" fill="#222" stroke="#222" stroke-width="0.0" font-family="Liberation Sans" textLength="12.70" lengthAdjust="spacingAndGlyphs">sg85</text>
<text x="458.20" y="635.00" font-size="6.6" fill="#222" stroke="#222" stroke-width="0.0" font-family="Liberation Sans" textLength="12.10" lengthAdjust="spacingAndGlyphs">5.8S</text>
<text x="265.50" y="645.50" font-size="7.4" fill="#222" stroke="#222" stroke-width="0.0" font-family="Liberation Sans" textLength="6.38" lengthAdjust="spacingAndGlyphs">5'-</text>
<text x="271.88" y="645.50" font-size="7.4" fill="#cc3f74" stroke="#cc3f74" stroke-width="0.0" font-family="Liberation Sans" textLength="79.66" lengthAdjust="spacingAndGlyphs">TCCTACCTCAAACCTCTTCC</text>
<text x="351.54" y="645.50" font-size="7.4" fill="#5aa6e0" stroke="#5aa6e0" stroke-width="0.0" font-family="Liberation Sans" textLength="66.54" lengthAdjust="spacingAndGlyphs">GCACCGATGCTCTCCG</text>
<text x="418.08" y="645.50" font-size="7.4" fill="#e9a246" stroke="#e9a246" stroke-width="0.0" font-family="Liberation Sans" textLength="87.54" lengthAdjust="spacingAndGlyphs">ATTGCGGCCCCGGGTTCCTCC</text>
<text x="505.62" y="645.50" font-size="7.4" fill="#222" stroke="#222" stroke-width="0.0" font-family="Liberation Sans" textLength="6.38" lengthAdjust="spacingAndGlyphs">-3'</text>
<text x="272.62" y="653.8" font-size="5.3" fill="#e88a8a" font-family="Liberation Serif" text-anchor="middle">T</text>
<text x="276.87" y="653.8" font-size="5.3" fill="#7f9ad8" font-family="Liberation Serif" text-anchor="middle">C</text>
<text x="281.12" y="653.8" font-size="5.3" fill="#7f9ad8" font-family="Liberation Serif" text-anchor="middle">C</text>
<text x="285.37" y="653.8" font-size="5.3" fill="#e88a8a" font-family="Liberation Serif" text-anchor="middle">T</text>
<text x="289.61" y="653.8" font-size="5.3" fill="#9ad088" font-family="Liberation Serif" text-anchor="middle">A</text>
<text x="293.86" y="653.8" font-size="5.3" fill="#7f9ad8" font-family="Liberation Serif" text-anchor="middle">C</text>
<text x="298.11" y="653.8" font-size="5.3" fill="#7f9ad8" font-family="Liberation Serif" text-anchor="middle">C</text>
<text x="302.36" y="653.8" font-size="5.3" fill="#e88a8a" font-family="Liberation Serif" text-anchor="middle">T</text>
<text x="306.60" y="653.8" font-size="5.3" fill="#7f9ad8" font-family="Liberation Serif" text-anchor="middle">C</text>
<text x="310.85" y="653.8" font-size="5.3" fill="#9ad088" font-family="Liberation Serif" text-anchor="middle">A</text>
<text x="315.10" y="653.8" font-size="5.3" fill="#9ad088" font-family="Liberation Serif" text-anchor="middle">A</text>
<text x="319.34" y="653.8" font-size="5.3" fill="#9ad088" font-family="Liberation Serif" text-anchor="middle">A</text>
<text x="323.59" y="653.8" font-size="5.3" fill="#7f9ad8" font-family="Liberation Serif" text-anchor="middle">C</text>
<text x="327.84" y="653.8" font-size="5.3" fill="#7f9ad8" font-family="Liberation Serif" text-anchor="middle">C</text>
<text x="332.09" y="653.8" font-size="5.3" fill="#e88a8a" font-family="Liberation Serif" text-anchor="middle">T</text>
<text x="336.33" y="653.8" font-size="5.3" fill="#7f9ad8" font-family="Liberation Serif" text-anchor="middle">C</text>
<text x="340.58" y="653.8" font-size="5.3" fill="#e88a8a" font-family="Liberation Serif" text-anchor="middle">T</text>
<text x="344.83" y="653.8" font-size="5.3" fill="#e88a8a" font-family="Liberation Serif" text-anchor="middle">T</text>
<text x="349.08" y="653.8" font-size="5.3" fill="#7f9ad8" font-family="Liberation Serif" text-anchor="middle">C</text>
<text x="353.32" y="653.8" font-size="5.3" fill="#7f9ad8" font-family="Liberation Serif" text-anchor="middle">C</text>
<text x="357.57" y="653.8" font-size="5.3" fill="#808080" font-family="Liberation Serif" text-anchor="middle">G</text>
<text x="361.82" y="653.8" font-size="5.3" fill="#7f9ad8" font-family="Liberation Serif" text-anchor="middle">C</text>
<text x="366.07" y="653.8" font-size="5.3" fill="#9ad088" font-family="Liberation Serif" text-anchor="middle">A</text>
<text x="370.31" y="653.8" font-size="5.3" fill="#7f9ad8" font-family="Liberation Serif" text-anchor="middle">C</text>
<text x="374.56" y="653.8" font-size="5.3" fill="#7f9ad8" font-family="Liberation Serif" text-anchor="middle">C</text>
<text x="378.81" y="653.8" font-size="5.3" fill="#808080" font-family="Liberation Serif" text-anchor="middle">G</text>
<text x="383.06" y="653.8" font-size="5.3" fill="#9ad088" font-family="Liberation Serif" text-anchor="middle">A</text>
<text x="387.30" y="653.8" font-size="5.3" fill="#e88a8a" font-family="Liberation Serif" text-anchor="middle">T</text>
<text x="391.55" y="653.8" font-size="5.3" fill="#808080" font-family="Liberation Serif" text-anchor="middle">G</text>
<text x="395.80" y="653.8" font-size="5.3" fill="#7f9ad8" font-family="Liberation Serif" text-anchor="middle">C</text>
<text x="400.04" y="653.8" font-size="5.3" fill="#e88a8a" font-family="Liberation Serif" text-anchor="middle">T</text>
<text x="404.29" y="653.8" font-size="5.3" fill="#7f9ad8" font-family="Liberation Serif" text-anchor="middle">C</text>
<text x="408.54" y="653.8" font-size="5.3" fill="#e88a8a" font-family="Liberation Serif" text-anchor="middle">T</text>
<text x="412.79" y="653.8" font-size="5.3" fill="#7f9ad8" font-family="Liberation Serif" text-anchor="middle">C</text>
<text x="417.03" y="653.8" font-size="5.3" fill="#7f9ad8" font-family="Liberation Serif" text-anchor="middle">C</text>
<text x="421.28" y="653.8" font-size="5.3" fill="#808080" font-family="Liberation Serif" text-anchor="middle">G</text>
<text x="425.53" y="653.8" font-size="5.3" fill="#9ad088" font-family="Liberation Serif" text-anchor="middle">A</text>
<text x="429.78" y="653.8" font-size="5.3" fill="#e88a8a" font-family="Liberation Serif" text-anchor="middle">T</text>
<text x="434.02" y="653.8" font-size="5.3" fill="#e88a8a" font-family="Liberation Serif" text-anchor="middle">T</text>
<text x="438.27" y="653.8" font-size="5.3" fill="#808080" font-family="Liberation Serif" text-anchor="middle">G</text>
<text x="442.52" y="653.8" font-size="5.3" fill="#7f9ad8" font-family="Liberation Serif" text-anchor="middle">C</text>
<text x="446.77" y="653.8" font-size="5.3" fill="#808080" font-family="Liberation Serif" text-anchor="middle">G</text>
<text x="451.01" y="653.8" font-size="5.3" fill="#808080" font-family="Liberation Serif" text-anchor="middle">G</text>
<text x="455.26" y="653.8" font-size="5.3" fill="#7f9ad8" font-family="Liberation Serif" text-anchor="middle">C</text>
<text x="459.51" y="653.8" font-size="5.3" fill="#7f9ad8" font-family="Liberation Serif" text-anchor="middle">C</text>
<text x="463.76" y="653.8" font-size="5.3" fill="#7f9ad8" font-family="Liberation Serif" text-anchor="middle">C</text>
<text x="468.00" y="653.8" font-size="5.3" fill="#7f9ad8" font-family="Liberation Serif" text-anchor="middle">C</text>
<text x="472.25" y="653.8" font-size="5.3" fill="#808080" font-family="Liberation Serif" text-anchor="middle">G</text>
<text x="476.50" y="653.8" font-size="5.3" fill="#808080" font-family="Liberation Serif" text-anchor="middle">G</text>
<text x="480.74" y="653.8" font-size="5.3" fill="#808080" font-family="Liberation Serif" text-anchor="middle">G</text>
<text x="484.99" y="653.8" font-size="5.3" fill="#e88a8a" font-family="Liberation Serif" text-anchor="middle">T</text>
<text x="489.24" y="653.8" font-size="5.3" fill="#e88a8a" font-family="Liberation Serif" text-anchor="middle">T</text>
<text x="493.49" y="653.8" font-size="5.3" fill="#7f9ad8" font-family="Liberation Serif" text-anchor="middle">C</text>
<text x="497.73" y="653.8" font-size="5.3" fill="#7f9ad8" font-family="Liberation Serif" text-anchor="middle">C</text>
<text x="501.98" y="653.8" font-size="5.3" fill="#e88a8a" font-family="Liberation Serif" text-anchor="middle">T</text>
<text x="506.23" y="653.8" font-size="5.3" fill="#7f9ad8" font-family="Liberation Serif" text-anchor="middle">C</text>
<text x="510.48" y="653.8" font-size="5.3" fill="#7f9ad8" font-family="Liberation Serif" text-anchor="middle">C</text>
<path d="M267.31,680.00 L269.12,669.97 Q269.90,666.21 270.68,669.97 L272.49,680.00 M280.25,680.00 L282.06,671.64 Q282.84,668.51 283.61,671.64 L285.42,680.00 M297.50,680.00 L299.31,671.64 Q300.09,668.51 300.86,671.64 L302.67,680.00 M327.69,680.00 L329.50,671.64 Q330.27,668.51 331.05,671.64 L332.86,680.00 M336.31,680.00 L338.12,671.64 Q338.90,668.51 339.68,671.64 L341.49,680.00 M340.62,680.00 L342.44,671.64 Q343.21,668.51 343.99,671.64 L345.80,680.00 M383.75,680.00 L385.56,671.64 Q386.34,668.51 387.11,671.64 L388.92,680.00 M396.69,680.00 L398.50,669.97 Q399.27,666.21 400.05,669.97 L401.86,680.00 M405.31,680.00 L407.12,671.64 Q407.90,668.51 408.68,671.64 L410.49,680.00 M426.88,680.00 L428.69,673.32 Q429.46,670.81 430.24,673.32 L432.05,680.00 M431.19,680.00 L433.00,671.64 Q433.77,668.51 434.55,671.64 L436.36,680.00 M482.94,680.00 L484.75,676.66 Q485.52,675.40 486.30,676.66 L488.11,680.00 M487.25,680.00 L489.06,674.99 Q489.84,673.11 490.61,674.99 L492.42,680.00 M500.19,680.00 L502.00,671.64 Q502.77,668.51 503.55,671.64 L505.36,680.00" fill="none" stroke="#dc3434" stroke-width="1.3" stroke-linejoin="round"/>
<path d="M271.62,680.00 L273.44,669.97 Q274.21,666.21 274.99,669.97 L276.80,680.00 M275.94,680.00 L277.75,671.64 Q278.52,668.51 279.30,671.64 L281.11,680.00 M288.88,680.00 L290.69,671.64 Q291.46,668.51 292.24,671.64 L294.05,680.00 M293.19,680.00 L295.00,671.64 Q295.77,668.51 296.55,671.64 L298.36,680.00 M301.81,680.00 L303.62,671.64 Q304.40,668.51 305.18,671.64 L306.99,680.00 M319.06,680.00 L320.87,673.32 Q321.65,670.81 322.43,673.32 L324.24,680.00 M323.38,680.00 L325.19,673.32 Q325.96,670.81 326.74,673.32 L328.55,680.00 M332.00,680.00 L333.81,669.97 Q334.59,666.21 335.36,669.97 L337.17,680.00 M344.94,680.00 L346.75,673.32 Q347.52,670.81 348.30,673.32 L350.11,680.00 M349.25,680.00 L351.06,671.64 Q351.84,668.51 352.61,671.64 L354.42,680.00 M357.88,680.00 L359.69,673.32 Q360.46,670.81 361.24,673.32 L363.05,680.00 M366.50,680.00 L368.31,673.32 Q369.09,670.81 369.86,673.32 L371.67,680.00 M370.81,680.00 L372.62,671.64 Q373.40,668.51 374.18,671.64 L375.99,680.00 M392.38,680.00 L394.19,673.32 Q394.96,670.81 395.74,673.32 L397.55,680.00 M401.00,680.00 L402.81,669.97 Q403.59,666.21 404.36,669.97 L406.17,680.00 M409.62,680.00 L411.44,671.64 Q412.21,668.51 412.99,671.64 L414.80,680.00 M413.94,680.00 L415.75,671.64 Q416.52,668.51 417.30,671.64 L419.11,680.00 M439.81,680.00 L441.62,673.32 Q442.40,670.81 443.18,673.32 L444.99,680.00 M452.75,680.00 L454.56,676.66 Q455.34,675.40 456.11,676.66 L457.92,680.00 M457.06,680.00 L458.87,671.64 Q459.65,668.51 460.43,671.64 L462.24,680.00 M461.38,680.00 L463.19,671.64 Q463.96,668.51 464.74,671.64 L466.55,680.00 M465.69,680.00 L467.50,671.64 Q468.27,668.51 469.05,671.64 L470.86,680.00 M491.56,680.00 L493.37,671.64 Q494.15,668.51 494.93,671.64 L496.74,680.00 M495.88,680.00 L497.69,671.64 Q498.46,668.51 499.24,671.64 L501.05,680.00 M504.50,680.00 L506.31,671.64 Q507.09,668.51 507.86,671.64 L509.67,680.00 M508.81,680.00 L510.62,671.64 Q511.40,668.51 512.18,671.64 L513.99,680.00" fill="none" stroke="#3a5cc6" stroke-width="1.3" stroke-linejoin="round"/>
<path d="M284.56,680.00 L286.37,669.97 Q287.15,666.21 287.93,669.97 L289.74,680.00 M306.12,680.00 L307.94,674.99 Q308.71,673.11 309.49,674.99 L311.30,680.00 M310.44,680.00 L312.25,673.32 Q313.02,670.81 313.80,673.32 L315.61,680.00 M314.75,680.00 L316.56,673.32 Q317.34,670.81 318.11,673.32 L319.92,680.00 M362.19,680.00 L364.00,673.32 Q364.77,670.81 365.55,673.32 L367.36,680.00 M379.44,680.00 L381.25,668.30 Q382.02,663.92 382.80,668.30 L384.61,680.00 M422.56,680.00 L424.37,664.96 Q425.15,659.32 425.93,664.96 L427.74,680.00" fill="none" stroke="#6cbf4a" stroke-width="1.3" stroke-linejoin="round"/>
<path d="M353.56,680.00 L355.37,673.32 Q356.15,670.81 356.93,673.32 L358.74,680.00 M375.12,680.00 L376.94,669.97 Q377.71,666.21 378.49,669.97 L380.30,680.00 M388.06,680.00 L389.87,664.96 Q390.65,659.32 391.43,664.96 L393.24,680.00 M418.25,680.00 L420.06,674.99 Q420.84,673.11 421.61,674.99 L423.42,680.00 M435.50,680.00 L437.31,671.64 Q438.09,668.51 438.86,671.64 L440.67,680.00 M444.12,680.00 L445.94,674.99 Q446.71,673.11 447.49,674.99 L449.30,680.00 M448.44,680.00 L450.25,668.30 Q451.02,663.92 451.80,668.30 L453.61,680.00 M470.00,680.00 L471.81,671.64 Q472.59,668.51 473.36,671.64 L475.17,680.00 M474.31,680.00 L476.12,671.64 Q476.90,668.51 477.68,671.64 L479.49,680.00 M478.62,680.00 L480.44,673.32 Q481.21,670.81 481.99,673.32 L483.80,680.00" fill="none" stroke="#1e1e1e" stroke-width="1.3" stroke-linejoin="round"/>
<line x1="267.5" y1="680.5" x2="514" y2="680.5" stroke="#222" stroke-width="1.2" />
</svg></body></html>
